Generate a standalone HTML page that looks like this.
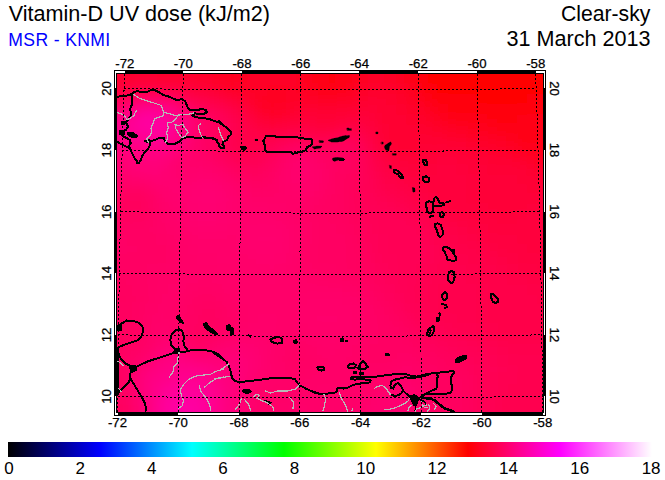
<!DOCTYPE html>
<html><head><meta charset="utf-8"><title>Vitamin-D UV dose</title>
<style>
html,body{margin:0;padding:0;background:#fff;}
body{width:665px;height:480px;overflow:hidden;}
svg{display:block;}
text{font-family:"Liberation Sans",sans-serif;}
</style></head><body>
<svg width="665" height="480" viewBox="0 0 665 480">
<defs>
<linearGradient id="cb" x1="0" y1="0" x2="1" y2="0"><stop offset="0" stop-color="#000"/><stop offset="0.142857" stop-color="#00f"/><stop offset="0.285714" stop-color="#0ff"/><stop offset="0.428571" stop-color="#0f0"/><stop offset="0.571429" stop-color="#ff0"/><stop offset="0.714286" stop-color="#f00"/><stop offset="0.857143" stop-color="#f0f"/><stop offset="1" stop-color="#fff"/></linearGradient>
<clipPath id="clip"><rect x="117" y="74" width="426" height="338"/></clipPath>
<filter id="blur" x="-5%" y="-5%" width="110%" height="110%"><feGaussianBlur stdDeviation="7"/></filter>
</defs>
<rect width="665" height="480" fill="#fff"/>
<text x="8.7" y="21" font-size="21.6" fill="#000">Vitamin-D UV dose (kJ/m2)</text>
<text x="8.3" y="45.5" font-size="17.6" letter-spacing="0.35" fill="#0000ff">MSR - KNMI</text>
<text x="650.4" y="21" font-size="21.2" fill="#000" text-anchor="end">Clear-sky</text>
<text x="650.6" y="46" font-size="21.6" fill="#000" text-anchor="end">31 March 2013</text>
<g clip-path="url(#clip)">
<rect x="87" y="44" width="486" height="398" fill="#ff0050"/>
<g filter="url(#blur)" shape-rendering="crispEdges">
<rect x="97" y="54" width="30" height="10" fill="#ff002e"/><rect x="127" y="54" width="20" height="10" fill="#ff002d"/><rect x="147" y="54" width="10" height="10" fill="#ff002e"/><rect x="157" y="54" width="10" height="10" fill="#ff002c"/><rect x="167" y="54" width="10" height="10" fill="#ff002a"/><rect x="177" y="54" width="20" height="10" fill="#ff002c"/><rect x="197" y="54" width="20" height="10" fill="#ff0029"/><rect x="217" y="54" width="10" height="10" fill="#ff0023"/><rect x="227" y="54" width="10" height="10" fill="#ff001f"/><rect x="237" y="54" width="10" height="10" fill="#ff0022"/><rect x="247" y="54" width="10" height="10" fill="#ff0027"/><rect x="257" y="54" width="30" height="10" fill="#ff0029"/><rect x="287" y="54" width="10" height="10" fill="#ff0027"/><rect x="297" y="54" width="10" height="10" fill="#ff0020"/><rect x="307" y="54" width="10" height="10" fill="#ff0017"/><rect x="317" y="54" width="10" height="10" fill="#ff0012"/><rect x="327" y="54" width="10" height="10" fill="#ff0011"/><rect x="337" y="54" width="10" height="10" fill="#ff0013"/><rect x="347" y="54" width="10" height="10" fill="#ff0018"/><rect x="357" y="54" width="10" height="10" fill="#ff001e"/><rect x="367" y="54" width="10" height="10" fill="#ff0025"/><rect x="377" y="54" width="10" height="10" fill="#ff0027"/><rect x="387" y="54" width="10" height="10" fill="#ff0026"/><rect x="397" y="54" width="10" height="10" fill="#ff001f"/><rect x="407" y="54" width="10" height="10" fill="#ff0015"/><rect x="417" y="54" width="10" height="10" fill="#ff000c"/><rect x="427" y="54" width="10" height="10" fill="#ff0006"/><rect x="437" y="54" width="40" height="10" fill="#ff0004"/><rect x="477" y="54" width="10" height="10" fill="#ff0003"/><rect x="487" y="54" width="50" height="10" fill="#ff0001"/><rect x="537" y="54" width="30" height="10" fill="#ff0000"/>
<rect x="97" y="64" width="30" height="10" fill="#ff002e"/><rect x="127" y="64" width="20" height="10" fill="#ff002d"/><rect x="147" y="64" width="10" height="10" fill="#ff002e"/><rect x="157" y="64" width="10" height="10" fill="#ff002c"/><rect x="167" y="64" width="10" height="10" fill="#ff002a"/><rect x="177" y="64" width="20" height="10" fill="#ff002c"/><rect x="197" y="64" width="20" height="10" fill="#ff0029"/><rect x="217" y="64" width="10" height="10" fill="#ff0023"/><rect x="227" y="64" width="10" height="10" fill="#ff001f"/><rect x="237" y="64" width="10" height="10" fill="#ff0022"/><rect x="247" y="64" width="10" height="10" fill="#ff0027"/><rect x="257" y="64" width="30" height="10" fill="#ff0029"/><rect x="287" y="64" width="10" height="10" fill="#ff0027"/><rect x="297" y="64" width="10" height="10" fill="#ff0020"/><rect x="307" y="64" width="10" height="10" fill="#ff0017"/><rect x="317" y="64" width="10" height="10" fill="#ff0012"/><rect x="327" y="64" width="10" height="10" fill="#ff0011"/><rect x="337" y="64" width="10" height="10" fill="#ff0013"/><rect x="347" y="64" width="10" height="10" fill="#ff0018"/><rect x="357" y="64" width="10" height="10" fill="#ff001e"/><rect x="367" y="64" width="10" height="10" fill="#ff0025"/><rect x="377" y="64" width="10" height="10" fill="#ff0027"/><rect x="387" y="64" width="10" height="10" fill="#ff0026"/><rect x="397" y="64" width="10" height="10" fill="#ff001f"/><rect x="407" y="64" width="10" height="10" fill="#ff0015"/><rect x="417" y="64" width="10" height="10" fill="#ff000c"/><rect x="427" y="64" width="10" height="10" fill="#ff0006"/><rect x="437" y="64" width="40" height="10" fill="#ff0004"/><rect x="477" y="64" width="10" height="10" fill="#ff0003"/><rect x="487" y="64" width="50" height="10" fill="#ff0001"/><rect x="537" y="64" width="30" height="10" fill="#ff0000"/>
<rect x="97" y="74" width="20" height="10" fill="#ff002f"/><rect x="117" y="74" width="10" height="10" fill="#ff0030"/><rect x="127" y="74" width="10" height="10" fill="#ff002f"/><rect x="137" y="74" width="20" height="10" fill="#ff0030"/><rect x="157" y="74" width="10" height="10" fill="#ff002f"/><rect x="167" y="74" width="10" height="10" fill="#ff002d"/><rect x="177" y="74" width="10" height="10" fill="#ff002f"/><rect x="187" y="74" width="10" height="10" fill="#ff002e"/><rect x="197" y="74" width="10" height="10" fill="#ff0029"/><rect x="207" y="74" width="10" height="10" fill="#ff002a"/><rect x="217" y="74" width="10" height="10" fill="#ff0023"/><rect x="227" y="74" width="10" height="10" fill="#ff001f"/><rect x="237" y="74" width="10" height="10" fill="#ff0022"/><rect x="247" y="74" width="10" height="10" fill="#ff0027"/><rect x="257" y="74" width="10" height="10" fill="#ff0028"/><rect x="267" y="74" width="30" height="10" fill="#ff0027"/><rect x="297" y="74" width="10" height="10" fill="#ff0020"/><rect x="307" y="74" width="10" height="10" fill="#ff0017"/><rect x="317" y="74" width="10" height="10" fill="#ff0012"/><rect x="327" y="74" width="10" height="10" fill="#ff0011"/><rect x="337" y="74" width="10" height="10" fill="#ff0013"/><rect x="347" y="74" width="10" height="10" fill="#ff0018"/><rect x="357" y="74" width="10" height="10" fill="#ff0020"/><rect x="367" y="74" width="10" height="10" fill="#ff0026"/><rect x="377" y="74" width="10" height="10" fill="#ff0029"/><rect x="387" y="74" width="10" height="10" fill="#ff0027"/><rect x="397" y="74" width="10" height="10" fill="#ff0021"/><rect x="407" y="74" width="10" height="10" fill="#ff0017"/><rect x="417" y="74" width="10" height="10" fill="#ff000d"/><rect x="427" y="74" width="10" height="10" fill="#ff0006"/><rect x="437" y="74" width="40" height="10" fill="#ff0004"/><rect x="477" y="74" width="10" height="10" fill="#ff0003"/><rect x="487" y="74" width="10" height="10" fill="#ff0001"/><rect x="497" y="74" width="10" height="10" fill="#ff0000"/><rect x="507" y="74" width="60" height="10" fill="#ff0001"/>
<rect x="97" y="84" width="20" height="10" fill="#ff0038"/><rect x="117" y="84" width="10" height="10" fill="#ff003a"/><rect x="127" y="84" width="10" height="10" fill="#ff003f"/><rect x="137" y="84" width="10" height="10" fill="#ff0041"/><rect x="147" y="84" width="10" height="10" fill="#ff003f"/><rect x="157" y="84" width="10" height="10" fill="#ff0040"/><rect x="167" y="84" width="10" height="10" fill="#ff003f"/><rect x="177" y="84" width="10" height="10" fill="#ff003e"/><rect x="187" y="84" width="10" height="10" fill="#ff003a"/><rect x="197" y="84" width="10" height="10" fill="#ff0034"/><rect x="207" y="84" width="10" height="10" fill="#ff0032"/><rect x="217" y="84" width="10" height="10" fill="#ff002a"/><rect x="227" y="84" width="10" height="10" fill="#ff0024"/><rect x="237" y="84" width="10" height="10" fill="#ff0026"/><rect x="247" y="84" width="10" height="10" fill="#ff0028"/><rect x="257" y="84" width="10" height="10" fill="#ff0025"/><rect x="267" y="84" width="10" height="10" fill="#ff0023"/><rect x="277" y="84" width="10" height="10" fill="#ff0024"/><rect x="287" y="84" width="10" height="10" fill="#ff0026"/><rect x="297" y="84" width="10" height="10" fill="#ff0024"/><rect x="307" y="84" width="10" height="10" fill="#ff001c"/><rect x="317" y="84" width="10" height="10" fill="#ff0016"/><rect x="327" y="84" width="10" height="10" fill="#ff0015"/><rect x="337" y="84" width="10" height="10" fill="#ff0017"/><rect x="347" y="84" width="10" height="10" fill="#ff001e"/><rect x="357" y="84" width="10" height="10" fill="#ff0025"/><rect x="367" y="84" width="10" height="10" fill="#ff002a"/><rect x="377" y="84" width="10" height="10" fill="#ff002c"/><rect x="387" y="84" width="10" height="10" fill="#ff002b"/><rect x="397" y="84" width="10" height="10" fill="#ff0026"/><rect x="407" y="84" width="10" height="10" fill="#ff001d"/><rect x="417" y="84" width="10" height="10" fill="#ff0011"/><rect x="427" y="84" width="10" height="10" fill="#ff0008"/><rect x="437" y="84" width="10" height="10" fill="#ff0005"/><rect x="447" y="84" width="10" height="10" fill="#ff0004"/><rect x="457" y="84" width="20" height="10" fill="#ff0005"/><rect x="477" y="84" width="10" height="10" fill="#ff0004"/><rect x="487" y="84" width="10" height="10" fill="#ff0002"/><rect x="497" y="84" width="20" height="10" fill="#ff0001"/><rect x="517" y="84" width="50" height="10" fill="#ff0002"/>
<rect x="97" y="94" width="20" height="10" fill="#ff004b"/><rect x="117" y="94" width="10" height="10" fill="#ff004e"/><rect x="127" y="94" width="10" height="10" fill="#ff005a"/><rect x="137" y="94" width="30" height="10" fill="#ff0065"/><rect x="167" y="94" width="10" height="10" fill="#ff0061"/><rect x="177" y="94" width="10" height="10" fill="#ff0054"/><rect x="187" y="94" width="10" height="10" fill="#ff004a"/><rect x="197" y="94" width="10" height="10" fill="#ff0047"/><rect x="207" y="94" width="10" height="10" fill="#ff0043"/><rect x="217" y="94" width="10" height="10" fill="#ff003c"/><rect x="227" y="94" width="10" height="10" fill="#ff0035"/><rect x="237" y="94" width="10" height="10" fill="#ff0031"/><rect x="247" y="94" width="10" height="10" fill="#ff002b"/><rect x="257" y="94" width="10" height="10" fill="#ff0023"/><rect x="267" y="94" width="10" height="10" fill="#ff0021"/><rect x="277" y="94" width="10" height="10" fill="#ff0023"/><rect x="287" y="94" width="10" height="10" fill="#ff0028"/><rect x="297" y="94" width="10" height="10" fill="#ff002a"/><rect x="307" y="94" width="10" height="10" fill="#ff0027"/><rect x="317" y="94" width="10" height="10" fill="#ff0024"/><rect x="327" y="94" width="10" height="10" fill="#ff0023"/><rect x="337" y="94" width="10" height="10" fill="#ff0025"/><rect x="347" y="94" width="10" height="10" fill="#ff0028"/><rect x="357" y="94" width="10" height="10" fill="#ff002d"/><rect x="367" y="94" width="20" height="10" fill="#ff0030"/><rect x="387" y="94" width="10" height="10" fill="#ff002f"/><rect x="397" y="94" width="10" height="10" fill="#ff002c"/><rect x="407" y="94" width="10" height="10" fill="#ff0025"/><rect x="417" y="94" width="10" height="10" fill="#ff001a"/><rect x="427" y="94" width="10" height="10" fill="#ff000f"/><rect x="437" y="94" width="10" height="10" fill="#ff0009"/><rect x="447" y="94" width="30" height="10" fill="#ff0007"/><rect x="477" y="94" width="10" height="10" fill="#ff0006"/><rect x="487" y="94" width="10" height="10" fill="#ff0004"/><rect x="497" y="94" width="10" height="10" fill="#ff0003"/><rect x="507" y="94" width="10" height="10" fill="#ff0004"/><rect x="517" y="94" width="10" height="10" fill="#ff0006"/><rect x="527" y="94" width="10" height="10" fill="#ff0007"/><rect x="537" y="94" width="30" height="10" fill="#ff0008"/>
<rect x="97" y="104" width="20" height="10" fill="#ff0067"/><rect x="117" y="104" width="10" height="10" fill="#ff006c"/><rect x="127" y="104" width="10" height="10" fill="#ff007e"/><rect x="137" y="104" width="10" height="10" fill="#ff008f"/><rect x="147" y="104" width="10" height="10" fill="#ff0091"/><rect x="157" y="104" width="10" height="10" fill="#ff008d"/><rect x="167" y="104" width="10" height="10" fill="#ff0083"/><rect x="177" y="104" width="10" height="10" fill="#ff0071"/><rect x="187" y="104" width="10" height="10" fill="#ff0060"/><rect x="197" y="104" width="10" height="10" fill="#ff005a"/><rect x="207" y="104" width="10" height="10" fill="#ff0055"/><rect x="217" y="104" width="10" height="10" fill="#ff004f"/><rect x="227" y="104" width="10" height="10" fill="#ff0047"/><rect x="237" y="104" width="10" height="10" fill="#ff003e"/><rect x="247" y="104" width="10" height="10" fill="#ff0032"/><rect x="257" y="104" width="10" height="10" fill="#ff0027"/><rect x="267" y="104" width="10" height="10" fill="#ff0023"/><rect x="277" y="104" width="10" height="10" fill="#ff0026"/><rect x="287" y="104" width="10" height="10" fill="#ff002c"/><rect x="297" y="104" width="50" height="10" fill="#ff0031"/><rect x="347" y="104" width="10" height="10" fill="#ff0033"/><rect x="357" y="104" width="20" height="10" fill="#ff0035"/><rect x="377" y="104" width="10" height="10" fill="#ff0032"/><rect x="387" y="104" width="10" height="10" fill="#ff0031"/><rect x="397" y="104" width="10" height="10" fill="#ff002f"/><rect x="407" y="104" width="10" height="10" fill="#ff002c"/><rect x="417" y="104" width="10" height="10" fill="#ff0026"/><rect x="427" y="104" width="10" height="10" fill="#ff001b"/><rect x="437" y="104" width="10" height="10" fill="#ff0012"/><rect x="447" y="104" width="10" height="10" fill="#ff000e"/><rect x="457" y="104" width="20" height="10" fill="#ff000d"/><rect x="477" y="104" width="10" height="10" fill="#ff000b"/><rect x="487" y="104" width="20" height="10" fill="#ff0009"/><rect x="507" y="104" width="10" height="10" fill="#ff000a"/><rect x="517" y="104" width="10" height="10" fill="#ff000d"/><rect x="527" y="104" width="10" height="10" fill="#ff000f"/><rect x="537" y="104" width="30" height="10" fill="#ff0010"/>
<rect x="97" y="114" width="20" height="10" fill="#ff0083"/><rect x="117" y="114" width="10" height="10" fill="#ff0088"/><rect x="127" y="114" width="10" height="10" fill="#ff0094"/><rect x="137" y="114" width="10" height="10" fill="#ff00a0"/><rect x="147" y="114" width="10" height="10" fill="#ff00a3"/><rect x="157" y="114" width="10" height="10" fill="#ff009e"/><rect x="167" y="114" width="10" height="10" fill="#ff0092"/><rect x="177" y="114" width="10" height="10" fill="#ff0083"/><rect x="187" y="114" width="10" height="10" fill="#ff0074"/><rect x="197" y="114" width="10" height="10" fill="#ff0068"/><rect x="207" y="114" width="10" height="10" fill="#ff005e"/><rect x="217" y="114" width="10" height="10" fill="#ff0058"/><rect x="227" y="114" width="10" height="10" fill="#ff0051"/><rect x="237" y="114" width="10" height="10" fill="#ff0048"/><rect x="247" y="114" width="10" height="10" fill="#ff003f"/><rect x="257" y="114" width="10" height="10" fill="#ff0033"/><rect x="267" y="114" width="10" height="10" fill="#ff002d"/><rect x="277" y="114" width="10" height="10" fill="#ff002f"/><rect x="287" y="114" width="10" height="10" fill="#ff0035"/><rect x="297" y="114" width="10" height="10" fill="#ff0039"/><rect x="307" y="114" width="10" height="10" fill="#ff0037"/><rect x="317" y="114" width="10" height="10" fill="#ff0035"/><rect x="327" y="114" width="10" height="10" fill="#ff0034"/><rect x="337" y="114" width="10" height="10" fill="#ff0037"/><rect x="347" y="114" width="10" height="10" fill="#ff003b"/><rect x="357" y="114" width="10" height="10" fill="#ff003c"/><rect x="367" y="114" width="10" height="10" fill="#ff0038"/><rect x="377" y="114" width="10" height="10" fill="#ff0033"/><rect x="387" y="114" width="10" height="10" fill="#ff0031"/><rect x="397" y="114" width="10" height="10" fill="#ff0030"/><rect x="407" y="114" width="10" height="10" fill="#ff002f"/><rect x="417" y="114" width="10" height="10" fill="#ff002c"/><rect x="427" y="114" width="10" height="10" fill="#ff0026"/><rect x="437" y="114" width="10" height="10" fill="#ff001e"/><rect x="447" y="114" width="10" height="10" fill="#ff0019"/><rect x="457" y="114" width="10" height="10" fill="#ff0017"/><rect x="467" y="114" width="10" height="10" fill="#ff0015"/><rect x="477" y="114" width="10" height="10" fill="#ff0013"/><rect x="487" y="114" width="10" height="10" fill="#ff0011"/><rect x="497" y="114" width="10" height="10" fill="#ff0010"/><rect x="507" y="114" width="10" height="10" fill="#ff0011"/><rect x="517" y="114" width="10" height="10" fill="#ff0012"/><rect x="527" y="114" width="40" height="10" fill="#ff0013"/>
<rect x="97" y="124" width="20" height="10" fill="#ff008a"/><rect x="117" y="124" width="10" height="10" fill="#ff008e"/><rect x="127" y="124" width="10" height="10" fill="#ff0095"/><rect x="137" y="124" width="10" height="10" fill="#ff009e"/><rect x="147" y="124" width="10" height="10" fill="#ff00a2"/><rect x="157" y="124" width="10" height="10" fill="#ff009e"/><rect x="167" y="124" width="10" height="10" fill="#ff0094"/><rect x="177" y="124" width="10" height="10" fill="#ff0083"/><rect x="187" y="124" width="10" height="10" fill="#ff0073"/><rect x="197" y="124" width="10" height="10" fill="#ff0067"/><rect x="207" y="124" width="10" height="10" fill="#ff005e"/><rect x="217" y="124" width="10" height="10" fill="#ff0059"/><rect x="227" y="124" width="10" height="10" fill="#ff0051"/><rect x="237" y="124" width="10" height="10" fill="#ff004a"/><rect x="247" y="124" width="10" height="10" fill="#ff0047"/><rect x="257" y="124" width="10" height="10" fill="#ff0041"/><rect x="267" y="124" width="10" height="10" fill="#ff003d"/><rect x="277" y="124" width="10" height="10" fill="#ff003f"/><rect x="287" y="124" width="10" height="10" fill="#ff0043"/><rect x="297" y="124" width="10" height="10" fill="#ff0044"/><rect x="307" y="124" width="10" height="10" fill="#ff0040"/><rect x="317" y="124" width="10" height="10" fill="#ff003b"/><rect x="327" y="124" width="10" height="10" fill="#ff003c"/><rect x="337" y="124" width="10" height="10" fill="#ff0042"/><rect x="347" y="124" width="10" height="10" fill="#ff0047"/><rect x="357" y="124" width="10" height="10" fill="#ff0045"/><rect x="367" y="124" width="10" height="10" fill="#ff003c"/><rect x="377" y="124" width="10" height="10" fill="#ff0034"/><rect x="387" y="124" width="10" height="10" fill="#ff0031"/><rect x="397" y="124" width="20" height="10" fill="#ff0030"/><rect x="417" y="124" width="10" height="10" fill="#ff002f"/><rect x="427" y="124" width="10" height="10" fill="#ff002d"/><rect x="437" y="124" width="10" height="10" fill="#ff0028"/><rect x="447" y="124" width="10" height="10" fill="#ff0025"/><rect x="457" y="124" width="10" height="10" fill="#ff0022"/><rect x="467" y="124" width="10" height="10" fill="#ff001f"/><rect x="477" y="124" width="10" height="10" fill="#ff001d"/><rect x="487" y="124" width="10" height="10" fill="#ff001a"/><rect x="497" y="124" width="10" height="10" fill="#ff0018"/><rect x="507" y="124" width="10" height="10" fill="#ff0016"/><rect x="517" y="124" width="10" height="10" fill="#ff0015"/><rect x="527" y="124" width="40" height="10" fill="#ff0014"/>
<rect x="97" y="134" width="20" height="10" fill="#ff0084"/><rect x="117" y="134" width="10" height="10" fill="#ff0086"/><rect x="127" y="134" width="10" height="10" fill="#ff008c"/><rect x="137" y="134" width="10" height="10" fill="#ff0091"/><rect x="147" y="134" width="20" height="10" fill="#ff0094"/><rect x="167" y="134" width="10" height="10" fill="#ff008d"/><rect x="177" y="134" width="10" height="10" fill="#ff007e"/><rect x="187" y="134" width="10" height="10" fill="#ff006d"/><rect x="197" y="134" width="10" height="10" fill="#ff0064"/><rect x="207" y="134" width="10" height="10" fill="#ff005e"/><rect x="217" y="134" width="10" height="10" fill="#ff0059"/><rect x="227" y="134" width="10" height="10" fill="#ff004f"/><rect x="237" y="134" width="30" height="10" fill="#ff0049"/><rect x="267" y="134" width="10" height="10" fill="#ff004a"/><rect x="277" y="134" width="10" height="10" fill="#ff004f"/><rect x="287" y="134" width="10" height="10" fill="#ff0054"/><rect x="297" y="134" width="10" height="10" fill="#ff0055"/><rect x="307" y="134" width="10" height="10" fill="#ff0050"/><rect x="317" y="134" width="10" height="10" fill="#ff004d"/><rect x="327" y="134" width="10" height="10" fill="#ff0052"/><rect x="337" y="134" width="10" height="10" fill="#ff0058"/><rect x="347" y="134" width="10" height="10" fill="#ff0057"/><rect x="357" y="134" width="10" height="10" fill="#ff0050"/><rect x="367" y="134" width="10" height="10" fill="#ff0042"/><rect x="377" y="134" width="10" height="10" fill="#ff0036"/><rect x="387" y="134" width="10" height="10" fill="#ff0032"/><rect x="397" y="134" width="40" height="10" fill="#ff0031"/><rect x="437" y="134" width="10" height="10" fill="#ff0030"/><rect x="447" y="134" width="10" height="10" fill="#ff002f"/><rect x="457" y="134" width="10" height="10" fill="#ff002d"/><rect x="467" y="134" width="10" height="10" fill="#ff002a"/><rect x="477" y="134" width="10" height="10" fill="#ff0027"/><rect x="487" y="134" width="10" height="10" fill="#ff0024"/><rect x="497" y="134" width="10" height="10" fill="#ff0021"/><rect x="507" y="134" width="10" height="10" fill="#ff001c"/><rect x="517" y="134" width="10" height="10" fill="#ff0018"/><rect x="527" y="134" width="40" height="10" fill="#ff0015"/>
<rect x="97" y="144" width="20" height="10" fill="#ff0079"/><rect x="117" y="144" width="10" height="10" fill="#ff007b"/><rect x="127" y="144" width="10" height="10" fill="#ff007f"/><rect x="137" y="144" width="20" height="10" fill="#ff0082"/><rect x="157" y="144" width="10" height="10" fill="#ff0085"/><rect x="167" y="144" width="10" height="10" fill="#ff007f"/><rect x="177" y="144" width="10" height="10" fill="#ff0074"/><rect x="187" y="144" width="10" height="10" fill="#ff006c"/><rect x="197" y="144" width="10" height="10" fill="#ff0066"/><rect x="207" y="144" width="10" height="10" fill="#ff0061"/><rect x="217" y="144" width="10" height="10" fill="#ff005a"/><rect x="227" y="144" width="10" height="10" fill="#ff0050"/><rect x="237" y="144" width="10" height="10" fill="#ff004b"/><rect x="247" y="144" width="10" height="10" fill="#ff004c"/><rect x="257" y="144" width="10" height="10" fill="#ff004e"/><rect x="267" y="144" width="10" height="10" fill="#ff0054"/><rect x="277" y="144" width="10" height="10" fill="#ff005d"/><rect x="287" y="144" width="10" height="10" fill="#ff0064"/><rect x="297" y="144" width="10" height="10" fill="#ff0065"/><rect x="307" y="144" width="10" height="10" fill="#ff0061"/><rect x="317" y="144" width="10" height="10" fill="#ff005c"/><rect x="327" y="144" width="10" height="10" fill="#ff005f"/><rect x="337" y="144" width="10" height="10" fill="#ff0060"/><rect x="347" y="144" width="10" height="10" fill="#ff005e"/><rect x="357" y="144" width="10" height="10" fill="#ff0057"/><rect x="367" y="144" width="10" height="10" fill="#ff0049"/><rect x="377" y="144" width="10" height="10" fill="#ff003b"/><rect x="387" y="144" width="10" height="10" fill="#ff0035"/><rect x="397" y="144" width="20" height="10" fill="#ff0033"/><rect x="417" y="144" width="10" height="10" fill="#ff0034"/><rect x="427" y="144" width="10" height="10" fill="#ff0035"/><rect x="437" y="144" width="20" height="10" fill="#ff0036"/><rect x="457" y="144" width="10" height="10" fill="#ff0035"/><rect x="467" y="144" width="10" height="10" fill="#ff0032"/><rect x="477" y="144" width="10" height="10" fill="#ff002f"/><rect x="487" y="144" width="10" height="10" fill="#ff002d"/><rect x="497" y="144" width="10" height="10" fill="#ff002b"/><rect x="507" y="144" width="10" height="10" fill="#ff0026"/><rect x="517" y="144" width="10" height="10" fill="#ff001f"/><rect x="527" y="144" width="10" height="10" fill="#ff001a"/><rect x="537" y="144" width="30" height="10" fill="#ff0017"/>
<rect x="97" y="154" width="20" height="10" fill="#ff0071"/><rect x="117" y="154" width="10" height="10" fill="#ff0073"/><rect x="127" y="154" width="10" height="10" fill="#ff0078"/><rect x="137" y="154" width="30" height="10" fill="#ff007b"/><rect x="167" y="154" width="10" height="10" fill="#ff0072"/><rect x="177" y="154" width="10" height="10" fill="#ff006c"/><rect x="187" y="154" width="10" height="10" fill="#ff006b"/><rect x="197" y="154" width="10" height="10" fill="#ff0069"/><rect x="207" y="154" width="10" height="10" fill="#ff0065"/><rect x="217" y="154" width="10" height="10" fill="#ff005e"/><rect x="227" y="154" width="10" height="10" fill="#ff0056"/><rect x="237" y="154" width="10" height="10" fill="#ff0052"/><rect x="247" y="154" width="10" height="10" fill="#ff0051"/><rect x="257" y="154" width="10" height="10" fill="#ff0054"/><rect x="267" y="154" width="10" height="10" fill="#ff005c"/><rect x="277" y="154" width="10" height="10" fill="#ff0065"/><rect x="287" y="154" width="10" height="10" fill="#ff006b"/><rect x="297" y="154" width="10" height="10" fill="#ff006d"/><rect x="307" y="154" width="10" height="10" fill="#ff006a"/><rect x="317" y="154" width="10" height="10" fill="#ff0063"/><rect x="327" y="154" width="20" height="10" fill="#ff0061"/><rect x="347" y="154" width="10" height="10" fill="#ff005f"/><rect x="357" y="154" width="10" height="10" fill="#ff0059"/><rect x="367" y="154" width="10" height="10" fill="#ff004e"/><rect x="377" y="154" width="10" height="10" fill="#ff0042"/><rect x="387" y="154" width="10" height="10" fill="#ff003a"/><rect x="397" y="154" width="20" height="10" fill="#ff0037"/><rect x="417" y="154" width="10" height="10" fill="#ff0038"/><rect x="427" y="154" width="10" height="10" fill="#ff0039"/><rect x="437" y="154" width="20" height="10" fill="#ff003a"/><rect x="457" y="154" width="10" height="10" fill="#ff0039"/><rect x="467" y="154" width="10" height="10" fill="#ff0037"/><rect x="477" y="154" width="10" height="10" fill="#ff0034"/><rect x="487" y="154" width="10" height="10" fill="#ff0033"/><rect x="497" y="154" width="10" height="10" fill="#ff0032"/><rect x="507" y="154" width="10" height="10" fill="#ff0031"/><rect x="517" y="154" width="10" height="10" fill="#ff002c"/><rect x="527" y="154" width="10" height="10" fill="#ff0025"/><rect x="537" y="154" width="30" height="10" fill="#ff001f"/>
<rect x="97" y="164" width="30" height="10" fill="#ff0070"/><rect x="127" y="164" width="10" height="10" fill="#ff0074"/><rect x="137" y="164" width="10" height="10" fill="#ff0077"/><rect x="147" y="164" width="10" height="10" fill="#ff0078"/><rect x="157" y="164" width="10" height="10" fill="#ff0076"/><rect x="167" y="164" width="10" height="10" fill="#ff006f"/><rect x="177" y="164" width="20" height="10" fill="#ff006b"/><rect x="197" y="164" width="10" height="10" fill="#ff006c"/><rect x="207" y="164" width="10" height="10" fill="#ff006a"/><rect x="217" y="164" width="10" height="10" fill="#ff0066"/><rect x="227" y="164" width="10" height="10" fill="#ff0060"/><rect x="237" y="164" width="10" height="10" fill="#ff005b"/><rect x="247" y="164" width="10" height="10" fill="#ff0059"/><rect x="257" y="164" width="10" height="10" fill="#ff005b"/><rect x="267" y="164" width="10" height="10" fill="#ff0061"/><rect x="277" y="164" width="10" height="10" fill="#ff0068"/><rect x="287" y="164" width="10" height="10" fill="#ff006d"/><rect x="297" y="164" width="10" height="10" fill="#ff006e"/><rect x="307" y="164" width="10" height="10" fill="#ff006c"/><rect x="317" y="164" width="10" height="10" fill="#ff0067"/><rect x="327" y="164" width="10" height="10" fill="#ff0062"/><rect x="337" y="164" width="10" height="10" fill="#ff0060"/><rect x="347" y="164" width="10" height="10" fill="#ff005e"/><rect x="357" y="164" width="10" height="10" fill="#ff0059"/><rect x="367" y="164" width="10" height="10" fill="#ff0050"/><rect x="377" y="164" width="10" height="10" fill="#ff0047"/><rect x="387" y="164" width="10" height="10" fill="#ff0040"/><rect x="397" y="164" width="10" height="10" fill="#ff003d"/><rect x="407" y="164" width="30" height="10" fill="#ff003b"/><rect x="437" y="164" width="20" height="10" fill="#ff003c"/><rect x="457" y="164" width="10" height="10" fill="#ff003b"/><rect x="467" y="164" width="10" height="10" fill="#ff0039"/><rect x="477" y="164" width="10" height="10" fill="#ff0037"/><rect x="487" y="164" width="30" height="10" fill="#ff0036"/><rect x="517" y="164" width="10" height="10" fill="#ff0034"/><rect x="527" y="164" width="10" height="10" fill="#ff0030"/><rect x="537" y="164" width="10" height="10" fill="#ff002a"/><rect x="547" y="164" width="20" height="10" fill="#ff0029"/>
<rect x="97" y="174" width="40" height="10" fill="#ff006d"/><rect x="137" y="174" width="10" height="10" fill="#ff006f"/><rect x="147" y="174" width="20" height="10" fill="#ff0072"/><rect x="167" y="174" width="10" height="10" fill="#ff0070"/><rect x="177" y="174" width="20" height="10" fill="#ff006e"/><rect x="197" y="174" width="20" height="10" fill="#ff0070"/><rect x="217" y="174" width="10" height="10" fill="#ff006d"/><rect x="227" y="174" width="10" height="10" fill="#ff0068"/><rect x="237" y="174" width="10" height="10" fill="#ff0063"/><rect x="247" y="174" width="20" height="10" fill="#ff0060"/><rect x="267" y="174" width="10" height="10" fill="#ff0064"/><rect x="277" y="174" width="10" height="10" fill="#ff0069"/><rect x="287" y="174" width="10" height="10" fill="#ff006c"/><rect x="297" y="174" width="10" height="10" fill="#ff006d"/><rect x="307" y="174" width="10" height="10" fill="#ff006b"/><rect x="317" y="174" width="10" height="10" fill="#ff0067"/><rect x="327" y="174" width="10" height="10" fill="#ff0062"/><rect x="337" y="174" width="10" height="10" fill="#ff005f"/><rect x="347" y="174" width="10" height="10" fill="#ff005c"/><rect x="357" y="174" width="10" height="10" fill="#ff0058"/><rect x="367" y="174" width="10" height="10" fill="#ff0052"/><rect x="377" y="174" width="10" height="10" fill="#ff004b"/><rect x="387" y="174" width="10" height="10" fill="#ff0046"/><rect x="397" y="174" width="10" height="10" fill="#ff0042"/><rect x="407" y="174" width="10" height="10" fill="#ff003f"/><rect x="417" y="174" width="10" height="10" fill="#ff003d"/><rect x="427" y="174" width="40" height="10" fill="#ff003c"/><rect x="467" y="174" width="10" height="10" fill="#ff003a"/><rect x="477" y="174" width="10" height="10" fill="#ff0038"/><rect x="487" y="174" width="30" height="10" fill="#ff0037"/><rect x="517" y="174" width="10" height="10" fill="#ff0036"/><rect x="527" y="174" width="10" height="10" fill="#ff0034"/><rect x="537" y="174" width="10" height="10" fill="#ff0031"/><rect x="547" y="174" width="20" height="10" fill="#ff0030"/>
<rect x="97" y="184" width="20" height="10" fill="#ff0066"/><rect x="117" y="184" width="10" height="10" fill="#ff0063"/><rect x="127" y="184" width="10" height="10" fill="#ff0060"/><rect x="137" y="184" width="10" height="10" fill="#ff0062"/><rect x="147" y="184" width="10" height="10" fill="#ff0069"/><rect x="157" y="184" width="10" height="10" fill="#ff006e"/><rect x="167" y="184" width="20" height="10" fill="#ff006f"/><rect x="187" y="184" width="10" height="10" fill="#ff0070"/><rect x="197" y="184" width="20" height="10" fill="#ff0072"/><rect x="217" y="184" width="10" height="10" fill="#ff0071"/><rect x="227" y="184" width="10" height="10" fill="#ff006d"/><rect x="237" y="184" width="10" height="10" fill="#ff0068"/><rect x="247" y="184" width="10" height="10" fill="#ff0065"/><rect x="257" y="184" width="10" height="10" fill="#ff0064"/><rect x="267" y="184" width="10" height="10" fill="#ff0065"/><rect x="277" y="184" width="10" height="10" fill="#ff0068"/><rect x="287" y="184" width="20" height="10" fill="#ff006a"/><rect x="307" y="184" width="10" height="10" fill="#ff0069"/><rect x="317" y="184" width="10" height="10" fill="#ff0066"/><rect x="327" y="184" width="10" height="10" fill="#ff0062"/><rect x="337" y="184" width="10" height="10" fill="#ff005e"/><rect x="347" y="184" width="10" height="10" fill="#ff005b"/><rect x="357" y="184" width="10" height="10" fill="#ff0057"/><rect x="367" y="184" width="10" height="10" fill="#ff0053"/><rect x="377" y="184" width="10" height="10" fill="#ff004e"/><rect x="387" y="184" width="10" height="10" fill="#ff004a"/><rect x="397" y="184" width="10" height="10" fill="#ff0046"/><rect x="407" y="184" width="10" height="10" fill="#ff0042"/><rect x="417" y="184" width="10" height="10" fill="#ff003f"/><rect x="427" y="184" width="10" height="10" fill="#ff003d"/><rect x="437" y="184" width="30" height="10" fill="#ff003c"/><rect x="467" y="184" width="10" height="10" fill="#ff003b"/><rect x="477" y="184" width="10" height="10" fill="#ff0039"/><rect x="487" y="184" width="40" height="10" fill="#ff0037"/><rect x="527" y="184" width="10" height="10" fill="#ff0036"/><rect x="537" y="184" width="30" height="10" fill="#ff0034"/>
<rect x="97" y="194" width="20" height="10" fill="#ff0060"/><rect x="117" y="194" width="10" height="10" fill="#ff005e"/><rect x="127" y="194" width="10" height="10" fill="#ff005b"/><rect x="137" y="194" width="10" height="10" fill="#ff005d"/><rect x="147" y="194" width="10" height="10" fill="#ff0063"/><rect x="157" y="194" width="10" height="10" fill="#ff006a"/><rect x="167" y="194" width="10" height="10" fill="#ff006e"/><rect x="177" y="194" width="10" height="10" fill="#ff006f"/><rect x="187" y="194" width="10" height="10" fill="#ff0071"/><rect x="197" y="194" width="20" height="10" fill="#ff0072"/><rect x="217" y="194" width="10" height="10" fill="#ff0071"/><rect x="227" y="194" width="10" height="10" fill="#ff006e"/><rect x="237" y="194" width="10" height="10" fill="#ff006a"/><rect x="247" y="194" width="10" height="10" fill="#ff0068"/><rect x="257" y="194" width="30" height="10" fill="#ff0067"/><rect x="287" y="194" width="10" height="10" fill="#ff0068"/><rect x="297" y="194" width="10" height="10" fill="#ff0067"/><rect x="307" y="194" width="10" height="10" fill="#ff0066"/><rect x="317" y="194" width="10" height="10" fill="#ff0064"/><rect x="327" y="194" width="10" height="10" fill="#ff0061"/><rect x="337" y="194" width="10" height="10" fill="#ff005e"/><rect x="347" y="194" width="10" height="10" fill="#ff005b"/><rect x="357" y="194" width="10" height="10" fill="#ff0058"/><rect x="367" y="194" width="10" height="10" fill="#ff0054"/><rect x="377" y="194" width="10" height="10" fill="#ff0051"/><rect x="387" y="194" width="10" height="10" fill="#ff004f"/><rect x="397" y="194" width="10" height="10" fill="#ff004c"/><rect x="407" y="194" width="10" height="10" fill="#ff0048"/><rect x="417" y="194" width="10" height="10" fill="#ff0043"/><rect x="427" y="194" width="10" height="10" fill="#ff003f"/><rect x="437" y="194" width="20" height="10" fill="#ff003d"/><rect x="457" y="194" width="10" height="10" fill="#ff003c"/><rect x="467" y="194" width="10" height="10" fill="#ff003b"/><rect x="477" y="194" width="10" height="10" fill="#ff0039"/><rect x="487" y="194" width="10" height="10" fill="#ff0038"/><rect x="497" y="194" width="70" height="10" fill="#ff0037"/>
<rect x="97" y="204" width="20" height="10" fill="#ff0060"/><rect x="117" y="204" width="10" height="10" fill="#ff005e"/><rect x="127" y="204" width="10" height="10" fill="#ff005c"/><rect x="137" y="204" width="10" height="10" fill="#ff005d"/><rect x="147" y="204" width="10" height="10" fill="#ff0062"/><rect x="157" y="204" width="10" height="10" fill="#ff0067"/><rect x="167" y="204" width="10" height="10" fill="#ff006b"/><rect x="177" y="204" width="10" height="10" fill="#ff006e"/><rect x="187" y="204" width="10" height="10" fill="#ff0070"/><rect x="197" y="204" width="20" height="10" fill="#ff0071"/><rect x="217" y="204" width="10" height="10" fill="#ff0070"/><rect x="227" y="204" width="10" height="10" fill="#ff006e"/><rect x="237" y="204" width="10" height="10" fill="#ff006b"/><rect x="247" y="204" width="20" height="10" fill="#ff006a"/><rect x="267" y="204" width="20" height="10" fill="#ff0069"/><rect x="287" y="204" width="10" height="10" fill="#ff0068"/><rect x="297" y="204" width="10" height="10" fill="#ff0066"/><rect x="307" y="204" width="10" height="10" fill="#ff0064"/><rect x="317" y="204" width="10" height="10" fill="#ff0063"/><rect x="327" y="204" width="10" height="10" fill="#ff0061"/><rect x="337" y="204" width="10" height="10" fill="#ff005f"/><rect x="347" y="204" width="10" height="10" fill="#ff005c"/><rect x="357" y="204" width="10" height="10" fill="#ff0059"/><rect x="367" y="204" width="10" height="10" fill="#ff0056"/><rect x="377" y="204" width="10" height="10" fill="#ff0054"/><rect x="387" y="204" width="10" height="10" fill="#ff0052"/><rect x="397" y="204" width="10" height="10" fill="#ff0051"/><rect x="407" y="204" width="10" height="10" fill="#ff004e"/><rect x="417" y="204" width="10" height="10" fill="#ff0049"/><rect x="427" y="204" width="10" height="10" fill="#ff0044"/><rect x="437" y="204" width="10" height="10" fill="#ff0040"/><rect x="447" y="204" width="10" height="10" fill="#ff003e"/><rect x="457" y="204" width="10" height="10" fill="#ff003d"/><rect x="467" y="204" width="10" height="10" fill="#ff003c"/><rect x="477" y="204" width="10" height="10" fill="#ff003b"/><rect x="487" y="204" width="40" height="10" fill="#ff0039"/><rect x="527" y="204" width="10" height="10" fill="#ff003a"/><rect x="537" y="204" width="30" height="10" fill="#ff003b"/>
<rect x="97" y="214" width="20" height="10" fill="#ff0062"/><rect x="117" y="214" width="10" height="10" fill="#ff0060"/><rect x="127" y="214" width="10" height="10" fill="#ff005f"/><rect x="137" y="214" width="10" height="10" fill="#ff0060"/><rect x="147" y="214" width="10" height="10" fill="#ff0063"/><rect x="157" y="214" width="10" height="10" fill="#ff0067"/><rect x="167" y="214" width="10" height="10" fill="#ff006a"/><rect x="177" y="214" width="10" height="10" fill="#ff006c"/><rect x="187" y="214" width="10" height="10" fill="#ff006e"/><rect x="197" y="214" width="20" height="10" fill="#ff006f"/><rect x="217" y="214" width="10" height="10" fill="#ff006e"/><rect x="227" y="214" width="10" height="10" fill="#ff006d"/><rect x="237" y="214" width="40" height="10" fill="#ff006c"/><rect x="277" y="214" width="10" height="10" fill="#ff006b"/><rect x="287" y="214" width="10" height="10" fill="#ff0069"/><rect x="297" y="214" width="10" height="10" fill="#ff0066"/><rect x="307" y="214" width="10" height="10" fill="#ff0064"/><rect x="317" y="214" width="10" height="10" fill="#ff0062"/><rect x="327" y="214" width="10" height="10" fill="#ff0061"/><rect x="337" y="214" width="10" height="10" fill="#ff0060"/><rect x="347" y="214" width="10" height="10" fill="#ff005d"/><rect x="357" y="214" width="10" height="10" fill="#ff005a"/><rect x="367" y="214" width="10" height="10" fill="#ff0057"/><rect x="377" y="214" width="10" height="10" fill="#ff0055"/><rect x="387" y="214" width="20" height="10" fill="#ff0054"/><rect x="407" y="214" width="10" height="10" fill="#ff0052"/><rect x="417" y="214" width="10" height="10" fill="#ff004f"/><rect x="427" y="214" width="10" height="10" fill="#ff004a"/><rect x="437" y="214" width="10" height="10" fill="#ff0045"/><rect x="447" y="214" width="10" height="10" fill="#ff0042"/><rect x="457" y="214" width="10" height="10" fill="#ff0040"/><rect x="467" y="214" width="10" height="10" fill="#ff003e"/><rect x="477" y="214" width="10" height="10" fill="#ff003d"/><rect x="487" y="214" width="10" height="10" fill="#ff003c"/><rect x="497" y="214" width="20" height="10" fill="#ff003b"/><rect x="517" y="214" width="10" height="10" fill="#ff003c"/><rect x="527" y="214" width="40" height="10" fill="#ff003d"/>
<rect x="97" y="224" width="20" height="10" fill="#ff0064"/><rect x="117" y="224" width="20" height="10" fill="#ff0063"/><rect x="137" y="224" width="10" height="10" fill="#ff0064"/><rect x="147" y="224" width="10" height="10" fill="#ff0065"/><rect x="157" y="224" width="10" height="10" fill="#ff0066"/><rect x="167" y="224" width="10" height="10" fill="#ff0068"/><rect x="177" y="224" width="10" height="10" fill="#ff006a"/><rect x="187" y="224" width="10" height="10" fill="#ff006c"/><rect x="197" y="224" width="30" height="10" fill="#ff006d"/><rect x="227" y="224" width="20" height="10" fill="#ff006c"/><rect x="247" y="224" width="40" height="10" fill="#ff006d"/><rect x="287" y="224" width="10" height="10" fill="#ff006a"/><rect x="297" y="224" width="10" height="10" fill="#ff0067"/><rect x="307" y="224" width="10" height="10" fill="#ff0064"/><rect x="317" y="224" width="20" height="10" fill="#ff0062"/><rect x="337" y="224" width="10" height="10" fill="#ff0061"/><rect x="347" y="224" width="10" height="10" fill="#ff005f"/><rect x="357" y="224" width="10" height="10" fill="#ff005b"/><rect x="367" y="224" width="10" height="10" fill="#ff0057"/><rect x="377" y="224" width="30" height="10" fill="#ff0055"/><rect x="407" y="224" width="10" height="10" fill="#ff0054"/><rect x="417" y="224" width="10" height="10" fill="#ff0052"/><rect x="427" y="224" width="10" height="10" fill="#ff004f"/><rect x="437" y="224" width="10" height="10" fill="#ff004a"/><rect x="447" y="224" width="10" height="10" fill="#ff0046"/><rect x="457" y="224" width="10" height="10" fill="#ff0044"/><rect x="467" y="224" width="10" height="10" fill="#ff0042"/><rect x="477" y="224" width="10" height="10" fill="#ff0040"/><rect x="487" y="224" width="10" height="10" fill="#ff003e"/><rect x="497" y="224" width="20" height="10" fill="#ff003d"/><rect x="517" y="224" width="50" height="10" fill="#ff003e"/>
<rect x="97" y="234" width="30" height="10" fill="#ff0065"/><rect x="127" y="234" width="30" height="10" fill="#ff0064"/><rect x="157" y="234" width="10" height="10" fill="#ff0065"/><rect x="167" y="234" width="10" height="10" fill="#ff0066"/><rect x="177" y="234" width="10" height="10" fill="#ff0068"/><rect x="187" y="234" width="10" height="10" fill="#ff006a"/><rect x="197" y="234" width="40" height="10" fill="#ff006b"/><rect x="237" y="234" width="10" height="10" fill="#ff006c"/><rect x="247" y="234" width="10" height="10" fill="#ff006d"/><rect x="257" y="234" width="20" height="10" fill="#ff006e"/><rect x="277" y="234" width="10" height="10" fill="#ff006d"/><rect x="287" y="234" width="10" height="10" fill="#ff006b"/><rect x="297" y="234" width="10" height="10" fill="#ff0067"/><rect x="307" y="234" width="10" height="10" fill="#ff0063"/><rect x="317" y="234" width="30" height="10" fill="#ff0062"/><rect x="347" y="234" width="10" height="10" fill="#ff0060"/><rect x="357" y="234" width="10" height="10" fill="#ff005c"/><rect x="367" y="234" width="10" height="10" fill="#ff0058"/><rect x="377" y="234" width="10" height="10" fill="#ff0056"/><rect x="387" y="234" width="30" height="10" fill="#ff0055"/><rect x="417" y="234" width="10" height="10" fill="#ff0054"/><rect x="427" y="234" width="10" height="10" fill="#ff0051"/><rect x="437" y="234" width="10" height="10" fill="#ff004d"/><rect x="447" y="234" width="10" height="10" fill="#ff004a"/><rect x="457" y="234" width="10" height="10" fill="#ff0047"/><rect x="467" y="234" width="10" height="10" fill="#ff0045"/><rect x="477" y="234" width="10" height="10" fill="#ff0043"/><rect x="487" y="234" width="10" height="10" fill="#ff0041"/><rect x="497" y="234" width="20" height="10" fill="#ff003f"/><rect x="517" y="234" width="50" height="10" fill="#ff003e"/>
<rect x="97" y="244" width="40" height="10" fill="#ff0065"/><rect x="137" y="244" width="30" height="10" fill="#ff0064"/><rect x="167" y="244" width="10" height="10" fill="#ff0065"/><rect x="177" y="244" width="10" height="10" fill="#ff0067"/><rect x="187" y="244" width="10" height="10" fill="#ff0069"/><rect x="197" y="244" width="30" height="10" fill="#ff006a"/><rect x="227" y="244" width="10" height="10" fill="#ff006b"/><rect x="237" y="244" width="10" height="10" fill="#ff006c"/><rect x="247" y="244" width="40" height="10" fill="#ff006d"/><rect x="287" y="244" width="10" height="10" fill="#ff006b"/><rect x="297" y="244" width="10" height="10" fill="#ff0066"/><rect x="307" y="244" width="10" height="10" fill="#ff0063"/><rect x="317" y="244" width="30" height="10" fill="#ff0062"/><rect x="347" y="244" width="10" height="10" fill="#ff0061"/><rect x="357" y="244" width="10" height="10" fill="#ff005d"/><rect x="367" y="244" width="10" height="10" fill="#ff0059"/><rect x="377" y="244" width="10" height="10" fill="#ff0056"/><rect x="387" y="244" width="30" height="10" fill="#ff0055"/><rect x="417" y="244" width="10" height="10" fill="#ff0054"/><rect x="427" y="244" width="10" height="10" fill="#ff0052"/><rect x="437" y="244" width="10" height="10" fill="#ff004f"/><rect x="447" y="244" width="10" height="10" fill="#ff004c"/><rect x="457" y="244" width="10" height="10" fill="#ff004a"/><rect x="467" y="244" width="10" height="10" fill="#ff0048"/><rect x="477" y="244" width="10" height="10" fill="#ff0046"/><rect x="487" y="244" width="10" height="10" fill="#ff0043"/><rect x="497" y="244" width="10" height="10" fill="#ff0041"/><rect x="507" y="244" width="10" height="10" fill="#ff0040"/><rect x="517" y="244" width="10" height="10" fill="#ff003f"/><rect x="527" y="244" width="40" height="10" fill="#ff003e"/>
<rect x="97" y="254" width="70" height="10" fill="#ff0064"/><rect x="167" y="254" width="10" height="10" fill="#ff0065"/><rect x="177" y="254" width="10" height="10" fill="#ff0067"/><rect x="187" y="254" width="10" height="10" fill="#ff0068"/><rect x="197" y="254" width="20" height="10" fill="#ff0069"/><rect x="217" y="254" width="20" height="10" fill="#ff006a"/><rect x="237" y="254" width="20" height="10" fill="#ff006b"/><rect x="257" y="254" width="10" height="10" fill="#ff006c"/><rect x="267" y="254" width="10" height="10" fill="#ff006d"/><rect x="277" y="254" width="10" height="10" fill="#ff006c"/><rect x="287" y="254" width="10" height="10" fill="#ff006a"/><rect x="297" y="254" width="10" height="10" fill="#ff0066"/><rect x="307" y="254" width="10" height="10" fill="#ff0063"/><rect x="317" y="254" width="30" height="10" fill="#ff0062"/><rect x="347" y="254" width="10" height="10" fill="#ff0061"/><rect x="357" y="254" width="10" height="10" fill="#ff005e"/><rect x="367" y="254" width="10" height="10" fill="#ff005a"/><rect x="377" y="254" width="10" height="10" fill="#ff0057"/><rect x="387" y="254" width="10" height="10" fill="#ff0056"/><rect x="397" y="254" width="20" height="10" fill="#ff0055"/><rect x="417" y="254" width="10" height="10" fill="#ff0054"/><rect x="427" y="254" width="10" height="10" fill="#ff0052"/><rect x="437" y="254" width="10" height="10" fill="#ff004f"/><rect x="447" y="254" width="10" height="10" fill="#ff004e"/><rect x="457" y="254" width="10" height="10" fill="#ff004c"/><rect x="467" y="254" width="10" height="10" fill="#ff004a"/><rect x="477" y="254" width="10" height="10" fill="#ff0048"/><rect x="487" y="254" width="10" height="10" fill="#ff0046"/><rect x="497" y="254" width="10" height="10" fill="#ff0044"/><rect x="507" y="254" width="10" height="10" fill="#ff0042"/><rect x="517" y="254" width="10" height="10" fill="#ff0040"/><rect x="527" y="254" width="40" height="10" fill="#ff003f"/>
<rect x="97" y="264" width="30" height="10" fill="#ff0063"/><rect x="127" y="264" width="20" height="10" fill="#ff0064"/><rect x="147" y="264" width="20" height="10" fill="#ff0065"/><rect x="167" y="264" width="10" height="10" fill="#ff0066"/><rect x="177" y="264" width="10" height="10" fill="#ff0067"/><rect x="187" y="264" width="30" height="10" fill="#ff0068"/><rect x="217" y="264" width="20" height="10" fill="#ff0069"/><rect x="237" y="264" width="30" height="10" fill="#ff006a"/><rect x="267" y="264" width="10" height="10" fill="#ff006b"/><rect x="277" y="264" width="10" height="10" fill="#ff006a"/><rect x="287" y="264" width="10" height="10" fill="#ff0069"/><rect x="297" y="264" width="10" height="10" fill="#ff0066"/><rect x="307" y="264" width="10" height="10" fill="#ff0064"/><rect x="317" y="264" width="20" height="10" fill="#ff0063"/><rect x="337" y="264" width="10" height="10" fill="#ff0062"/><rect x="347" y="264" width="10" height="10" fill="#ff0061"/><rect x="357" y="264" width="10" height="10" fill="#ff005f"/><rect x="367" y="264" width="10" height="10" fill="#ff005c"/><rect x="377" y="264" width="10" height="10" fill="#ff0058"/><rect x="387" y="264" width="10" height="10" fill="#ff0056"/><rect x="397" y="264" width="10" height="10" fill="#ff0055"/><rect x="407" y="264" width="10" height="10" fill="#ff0054"/><rect x="417" y="264" width="10" height="10" fill="#ff0053"/><rect x="427" y="264" width="10" height="10" fill="#ff0051"/><rect x="437" y="264" width="10" height="10" fill="#ff004f"/><rect x="447" y="264" width="10" height="10" fill="#ff004e"/><rect x="457" y="264" width="10" height="10" fill="#ff004d"/><rect x="467" y="264" width="10" height="10" fill="#ff004c"/><rect x="477" y="264" width="10" height="10" fill="#ff004a"/><rect x="487" y="264" width="10" height="10" fill="#ff0048"/><rect x="497" y="264" width="10" height="10" fill="#ff0047"/><rect x="507" y="264" width="10" height="10" fill="#ff0045"/><rect x="517" y="264" width="10" height="10" fill="#ff0043"/><rect x="527" y="264" width="10" height="10" fill="#ff0042"/><rect x="537" y="264" width="30" height="10" fill="#ff0040"/>
<rect x="97" y="274" width="30" height="10" fill="#ff0061"/><rect x="127" y="274" width="10" height="10" fill="#ff0062"/><rect x="137" y="274" width="10" height="10" fill="#ff0064"/><rect x="147" y="274" width="10" height="10" fill="#ff0065"/><rect x="157" y="274" width="20" height="10" fill="#ff0066"/><rect x="177" y="274" width="40" height="10" fill="#ff0067"/><rect x="217" y="274" width="10" height="10" fill="#ff0068"/><rect x="227" y="274" width="40" height="10" fill="#ff0069"/><rect x="267" y="274" width="10" height="10" fill="#ff006a"/><rect x="277" y="274" width="20" height="10" fill="#ff0069"/><rect x="297" y="274" width="10" height="10" fill="#ff0067"/><rect x="307" y="274" width="10" height="10" fill="#ff0066"/><rect x="317" y="274" width="10" height="10" fill="#ff0065"/><rect x="327" y="274" width="20" height="10" fill="#ff0064"/><rect x="347" y="274" width="10" height="10" fill="#ff0063"/><rect x="357" y="274" width="10" height="10" fill="#ff0061"/><rect x="367" y="274" width="10" height="10" fill="#ff005e"/><rect x="377" y="274" width="10" height="10" fill="#ff005b"/><rect x="387" y="274" width="10" height="10" fill="#ff0058"/><rect x="397" y="274" width="10" height="10" fill="#ff0056"/><rect x="407" y="274" width="10" height="10" fill="#ff0054"/><rect x="417" y="274" width="10" height="10" fill="#ff0052"/><rect x="427" y="274" width="10" height="10" fill="#ff0050"/><rect x="437" y="274" width="10" height="10" fill="#ff004f"/><rect x="447" y="274" width="20" height="10" fill="#ff004e"/><rect x="467" y="274" width="10" height="10" fill="#ff004c"/><rect x="477" y="274" width="10" height="10" fill="#ff004a"/><rect x="487" y="274" width="10" height="10" fill="#ff0049"/><rect x="497" y="274" width="10" height="10" fill="#ff0048"/><rect x="507" y="274" width="20" height="10" fill="#ff0047"/><rect x="527" y="274" width="10" height="10" fill="#ff0045"/><rect x="537" y="274" width="10" height="10" fill="#ff0044"/><rect x="547" y="274" width="20" height="10" fill="#ff0043"/>
<rect x="97" y="284" width="30" height="10" fill="#ff0060"/><rect x="127" y="284" width="10" height="10" fill="#ff0061"/><rect x="137" y="284" width="10" height="10" fill="#ff0063"/><rect x="147" y="284" width="10" height="10" fill="#ff0065"/><rect x="157" y="284" width="10" height="10" fill="#ff0066"/><rect x="167" y="284" width="20" height="10" fill="#ff0067"/><rect x="187" y="284" width="10" height="10" fill="#ff0066"/><rect x="197" y="284" width="20" height="10" fill="#ff0065"/><rect x="217" y="284" width="10" height="10" fill="#ff0067"/><rect x="227" y="284" width="10" height="10" fill="#ff0068"/><rect x="237" y="284" width="60" height="10" fill="#ff0069"/><rect x="297" y="284" width="40" height="10" fill="#ff0068"/><rect x="337" y="284" width="10" height="10" fill="#ff0067"/><rect x="347" y="284" width="10" height="10" fill="#ff0065"/><rect x="357" y="284" width="10" height="10" fill="#ff0063"/><rect x="367" y="284" width="10" height="10" fill="#ff0060"/><rect x="377" y="284" width="10" height="10" fill="#ff005d"/><rect x="387" y="284" width="10" height="10" fill="#ff005a"/><rect x="397" y="284" width="10" height="10" fill="#ff0057"/><rect x="407" y="284" width="10" height="10" fill="#ff0054"/><rect x="417" y="284" width="10" height="10" fill="#ff0051"/><rect x="427" y="284" width="10" height="10" fill="#ff004f"/><rect x="437" y="284" width="30" height="10" fill="#ff004e"/><rect x="467" y="284" width="10" height="10" fill="#ff004d"/><rect x="477" y="284" width="10" height="10" fill="#ff004b"/><rect x="487" y="284" width="10" height="10" fill="#ff0049"/><rect x="497" y="284" width="30" height="10" fill="#ff0048"/><rect x="527" y="284" width="10" height="10" fill="#ff0047"/><rect x="537" y="284" width="30" height="10" fill="#ff0046"/>
<rect x="97" y="294" width="30" height="10" fill="#ff005f"/><rect x="127" y="294" width="10" height="10" fill="#ff0060"/><rect x="137" y="294" width="10" height="10" fill="#ff0062"/><rect x="147" y="294" width="10" height="10" fill="#ff0065"/><rect x="157" y="294" width="20" height="10" fill="#ff0067"/><rect x="177" y="294" width="10" height="10" fill="#ff0066"/><rect x="187" y="294" width="10" height="10" fill="#ff0064"/><rect x="197" y="294" width="20" height="10" fill="#ff0063"/><rect x="217" y="294" width="10" height="10" fill="#ff0065"/><rect x="227" y="294" width="10" height="10" fill="#ff0067"/><rect x="237" y="294" width="70" height="10" fill="#ff0069"/><rect x="307" y="294" width="40" height="10" fill="#ff006a"/><rect x="347" y="294" width="10" height="10" fill="#ff0068"/><rect x="357" y="294" width="10" height="10" fill="#ff0066"/><rect x="367" y="294" width="10" height="10" fill="#ff0063"/><rect x="377" y="294" width="10" height="10" fill="#ff005f"/><rect x="387" y="294" width="10" height="10" fill="#ff005c"/><rect x="397" y="294" width="10" height="10" fill="#ff0058"/><rect x="407" y="294" width="10" height="10" fill="#ff0054"/><rect x="417" y="294" width="10" height="10" fill="#ff0051"/><rect x="427" y="294" width="10" height="10" fill="#ff004f"/><rect x="437" y="294" width="30" height="10" fill="#ff004e"/><rect x="467" y="294" width="10" height="10" fill="#ff004d"/><rect x="477" y="294" width="10" height="10" fill="#ff004b"/><rect x="487" y="294" width="10" height="10" fill="#ff0049"/><rect x="497" y="294" width="40" height="10" fill="#ff0048"/><rect x="537" y="294" width="30" height="10" fill="#ff0047"/>
<rect x="97" y="304" width="30" height="10" fill="#ff0060"/><rect x="127" y="304" width="10" height="10" fill="#ff0061"/><rect x="137" y="304" width="10" height="10" fill="#ff0063"/><rect x="147" y="304" width="10" height="10" fill="#ff0066"/><rect x="157" y="304" width="10" height="10" fill="#ff0068"/><rect x="167" y="304" width="10" height="10" fill="#ff0067"/><rect x="177" y="304" width="10" height="10" fill="#ff0065"/><rect x="187" y="304" width="10" height="10" fill="#ff0063"/><rect x="197" y="304" width="20" height="10" fill="#ff0061"/><rect x="217" y="304" width="10" height="10" fill="#ff0062"/><rect x="227" y="304" width="10" height="10" fill="#ff0066"/><rect x="237" y="304" width="10" height="10" fill="#ff0068"/><rect x="247" y="304" width="50" height="10" fill="#ff0069"/><rect x="297" y="304" width="10" height="10" fill="#ff006a"/><rect x="307" y="304" width="40" height="10" fill="#ff006b"/><rect x="347" y="304" width="10" height="10" fill="#ff006a"/><rect x="357" y="304" width="10" height="10" fill="#ff0067"/><rect x="367" y="304" width="10" height="10" fill="#ff0065"/><rect x="377" y="304" width="10" height="10" fill="#ff0062"/><rect x="387" y="304" width="10" height="10" fill="#ff005e"/><rect x="397" y="304" width="10" height="10" fill="#ff005a"/><rect x="407" y="304" width="10" height="10" fill="#ff0056"/><rect x="417" y="304" width="10" height="10" fill="#ff0052"/><rect x="427" y="304" width="10" height="10" fill="#ff004f"/><rect x="437" y="304" width="30" height="10" fill="#ff004e"/><rect x="467" y="304" width="10" height="10" fill="#ff004d"/><rect x="477" y="304" width="10" height="10" fill="#ff004b"/><rect x="487" y="304" width="10" height="10" fill="#ff0049"/><rect x="497" y="304" width="70" height="10" fill="#ff0048"/>
<rect x="97" y="314" width="30" height="10" fill="#ff0060"/><rect x="127" y="314" width="10" height="10" fill="#ff0061"/><rect x="137" y="314" width="10" height="10" fill="#ff0064"/><rect x="147" y="314" width="10" height="10" fill="#ff0067"/><rect x="157" y="314" width="10" height="10" fill="#ff0069"/><rect x="167" y="314" width="10" height="10" fill="#ff0068"/><rect x="177" y="314" width="10" height="10" fill="#ff0065"/><rect x="187" y="314" width="10" height="10" fill="#ff0062"/><rect x="197" y="314" width="20" height="10" fill="#ff0060"/><rect x="217" y="314" width="10" height="10" fill="#ff0061"/><rect x="227" y="314" width="10" height="10" fill="#ff0065"/><rect x="237" y="314" width="10" height="10" fill="#ff0068"/><rect x="247" y="314" width="10" height="10" fill="#ff0069"/><rect x="257" y="314" width="20" height="10" fill="#ff006a"/><rect x="277" y="314" width="20" height="10" fill="#ff0069"/><rect x="297" y="314" width="10" height="10" fill="#ff006a"/><rect x="307" y="314" width="10" height="10" fill="#ff006b"/><rect x="317" y="314" width="20" height="10" fill="#ff006c"/><rect x="337" y="314" width="10" height="10" fill="#ff006b"/><rect x="347" y="314" width="10" height="10" fill="#ff006a"/><rect x="357" y="314" width="10" height="10" fill="#ff0068"/><rect x="367" y="314" width="10" height="10" fill="#ff0065"/><rect x="377" y="314" width="10" height="10" fill="#ff0063"/><rect x="387" y="314" width="10" height="10" fill="#ff0061"/><rect x="397" y="314" width="10" height="10" fill="#ff005d"/><rect x="407" y="314" width="10" height="10" fill="#ff0059"/><rect x="417" y="314" width="10" height="10" fill="#ff0054"/><rect x="427" y="314" width="10" height="10" fill="#ff0051"/><rect x="437" y="314" width="20" height="10" fill="#ff004f"/><rect x="457" y="314" width="20" height="10" fill="#ff004e"/><rect x="477" y="314" width="10" height="10" fill="#ff004c"/><rect x="487" y="314" width="10" height="10" fill="#ff004a"/><rect x="497" y="314" width="10" height="10" fill="#ff0049"/><rect x="507" y="314" width="20" height="10" fill="#ff0048"/><rect x="527" y="314" width="40" height="10" fill="#ff0049"/>
<rect x="97" y="324" width="20" height="10" fill="#ff005e"/><rect x="117" y="324" width="10" height="10" fill="#ff005f"/><rect x="127" y="324" width="10" height="10" fill="#ff0061"/><rect x="137" y="324" width="10" height="10" fill="#ff0064"/><rect x="147" y="324" width="10" height="10" fill="#ff0068"/><rect x="157" y="324" width="10" height="10" fill="#ff006b"/><rect x="167" y="324" width="10" height="10" fill="#ff006a"/><rect x="177" y="324" width="10" height="10" fill="#ff0065"/><rect x="187" y="324" width="10" height="10" fill="#ff0061"/><rect x="197" y="324" width="10" height="10" fill="#ff0060"/><rect x="207" y="324" width="10" height="10" fill="#ff0061"/><rect x="217" y="324" width="10" height="10" fill="#ff0063"/><rect x="227" y="324" width="10" height="10" fill="#ff0066"/><rect x="237" y="324" width="10" height="10" fill="#ff0069"/><rect x="247" y="324" width="20" height="10" fill="#ff006b"/><rect x="267" y="324" width="10" height="10" fill="#ff006a"/><rect x="277" y="324" width="10" height="10" fill="#ff0069"/><rect x="287" y="324" width="10" height="10" fill="#ff0068"/><rect x="297" y="324" width="10" height="10" fill="#ff0069"/><rect x="307" y="324" width="10" height="10" fill="#ff006a"/><rect x="317" y="324" width="30" height="10" fill="#ff006b"/><rect x="347" y="324" width="10" height="10" fill="#ff006a"/><rect x="357" y="324" width="10" height="10" fill="#ff0067"/><rect x="367" y="324" width="10" height="10" fill="#ff0065"/><rect x="377" y="324" width="10" height="10" fill="#ff0064"/><rect x="387" y="324" width="10" height="10" fill="#ff0063"/><rect x="397" y="324" width="10" height="10" fill="#ff0060"/><rect x="407" y="324" width="10" height="10" fill="#ff005d"/><rect x="417" y="324" width="10" height="10" fill="#ff0058"/><rect x="427" y="324" width="10" height="10" fill="#ff0054"/><rect x="437" y="324" width="10" height="10" fill="#ff0052"/><rect x="447" y="324" width="20" height="10" fill="#ff0050"/><rect x="467" y="324" width="10" height="10" fill="#ff004f"/><rect x="477" y="324" width="10" height="10" fill="#ff004d"/><rect x="487" y="324" width="10" height="10" fill="#ff004b"/><rect x="497" y="324" width="20" height="10" fill="#ff004a"/><rect x="517" y="324" width="10" height="10" fill="#ff0049"/><rect x="527" y="324" width="40" height="10" fill="#ff004a"/>
<rect x="97" y="334" width="30" height="10" fill="#ff005e"/><rect x="127" y="334" width="10" height="10" fill="#ff0061"/><rect x="137" y="334" width="10" height="10" fill="#ff0064"/><rect x="147" y="334" width="10" height="10" fill="#ff0068"/><rect x="157" y="334" width="10" height="10" fill="#ff006e"/><rect x="167" y="334" width="10" height="10" fill="#ff006f"/><rect x="177" y="334" width="10" height="10" fill="#ff0068"/><rect x="187" y="334" width="10" height="10" fill="#ff0061"/><rect x="197" y="334" width="10" height="10" fill="#ff0060"/><rect x="207" y="334" width="10" height="10" fill="#ff0063"/><rect x="217" y="334" width="10" height="10" fill="#ff0067"/><rect x="227" y="334" width="10" height="10" fill="#ff006b"/><rect x="237" y="334" width="10" height="10" fill="#ff006d"/><rect x="247" y="334" width="10" height="10" fill="#ff006e"/><rect x="257" y="334" width="10" height="10" fill="#ff006c"/><rect x="267" y="334" width="10" height="10" fill="#ff006a"/><rect x="277" y="334" width="10" height="10" fill="#ff0068"/><rect x="287" y="334" width="20" height="10" fill="#ff0067"/><rect x="307" y="334" width="10" height="10" fill="#ff0068"/><rect x="317" y="334" width="30" height="10" fill="#ff006a"/><rect x="347" y="334" width="10" height="10" fill="#ff0068"/><rect x="357" y="334" width="10" height="10" fill="#ff0066"/><rect x="367" y="334" width="10" height="10" fill="#ff0065"/><rect x="377" y="334" width="20" height="10" fill="#ff0064"/><rect x="397" y="334" width="10" height="10" fill="#ff0063"/><rect x="407" y="334" width="10" height="10" fill="#ff0060"/><rect x="417" y="334" width="10" height="10" fill="#ff005c"/><rect x="427" y="334" width="10" height="10" fill="#ff0059"/><rect x="437" y="334" width="10" height="10" fill="#ff0056"/><rect x="447" y="334" width="10" height="10" fill="#ff0054"/><rect x="457" y="334" width="10" height="10" fill="#ff0053"/><rect x="467" y="334" width="10" height="10" fill="#ff0051"/><rect x="477" y="334" width="10" height="10" fill="#ff0050"/><rect x="487" y="334" width="10" height="10" fill="#ff004e"/><rect x="497" y="334" width="20" height="10" fill="#ff004c"/><rect x="517" y="334" width="10" height="10" fill="#ff004b"/><rect x="527" y="334" width="40" height="10" fill="#ff004c"/>
<rect x="97" y="344" width="20" height="10" fill="#ff005f"/><rect x="117" y="344" width="10" height="10" fill="#ff0060"/><rect x="127" y="344" width="10" height="10" fill="#ff0063"/><rect x="137" y="344" width="10" height="10" fill="#ff0065"/><rect x="147" y="344" width="10" height="10" fill="#ff006a"/><rect x="157" y="344" width="10" height="10" fill="#ff0074"/><rect x="167" y="344" width="10" height="10" fill="#ff0078"/><rect x="177" y="344" width="10" height="10" fill="#ff0072"/><rect x="187" y="344" width="10" height="10" fill="#ff0068"/><rect x="197" y="344" width="10" height="10" fill="#ff0065"/><rect x="207" y="344" width="10" height="10" fill="#ff0069"/><rect x="217" y="344" width="10" height="10" fill="#ff006f"/><rect x="227" y="344" width="20" height="10" fill="#ff0072"/><rect x="247" y="344" width="10" height="10" fill="#ff0071"/><rect x="257" y="344" width="10" height="10" fill="#ff006e"/><rect x="267" y="344" width="10" height="10" fill="#ff006a"/><rect x="277" y="344" width="10" height="10" fill="#ff0067"/><rect x="287" y="344" width="20" height="10" fill="#ff0065"/><rect x="307" y="344" width="10" height="10" fill="#ff0066"/><rect x="317" y="344" width="10" height="10" fill="#ff0067"/><rect x="327" y="344" width="10" height="10" fill="#ff0069"/><rect x="337" y="344" width="10" height="10" fill="#ff0068"/><rect x="347" y="344" width="10" height="10" fill="#ff0067"/><rect x="357" y="344" width="10" height="10" fill="#ff0065"/><rect x="367" y="344" width="40" height="10" fill="#ff0064"/><rect x="407" y="344" width="10" height="10" fill="#ff0063"/><rect x="417" y="344" width="10" height="10" fill="#ff0060"/><rect x="427" y="344" width="10" height="10" fill="#ff005d"/><rect x="437" y="344" width="10" height="10" fill="#ff005a"/><rect x="447" y="344" width="10" height="10" fill="#ff0058"/><rect x="457" y="344" width="10" height="10" fill="#ff0056"/><rect x="467" y="344" width="10" height="10" fill="#ff0054"/><rect x="477" y="344" width="10" height="10" fill="#ff0052"/><rect x="487" y="344" width="10" height="10" fill="#ff0051"/><rect x="497" y="344" width="10" height="10" fill="#ff004f"/><rect x="507" y="344" width="60" height="10" fill="#ff004e"/>
<rect x="97" y="354" width="20" height="10" fill="#ff0061"/><rect x="117" y="354" width="10" height="10" fill="#ff0062"/><rect x="127" y="354" width="10" height="10" fill="#ff0066"/><rect x="137" y="354" width="10" height="10" fill="#ff0069"/><rect x="147" y="354" width="10" height="10" fill="#ff0071"/><rect x="157" y="354" width="10" height="10" fill="#ff007c"/><rect x="167" y="354" width="10" height="10" fill="#ff0081"/><rect x="177" y="354" width="10" height="10" fill="#ff0080"/><rect x="187" y="354" width="10" height="10" fill="#ff0079"/><rect x="197" y="354" width="10" height="10" fill="#ff0075"/><rect x="207" y="354" width="10" height="10" fill="#ff0076"/><rect x="217" y="354" width="20" height="10" fill="#ff0077"/><rect x="237" y="354" width="10" height="10" fill="#ff0076"/><rect x="247" y="354" width="10" height="10" fill="#ff0073"/><rect x="257" y="354" width="10" height="10" fill="#ff006e"/><rect x="267" y="354" width="10" height="10" fill="#ff006a"/><rect x="277" y="354" width="10" height="10" fill="#ff0066"/><rect x="287" y="354" width="10" height="10" fill="#ff0065"/><rect x="297" y="354" width="10" height="10" fill="#ff0064"/><rect x="307" y="354" width="10" height="10" fill="#ff0065"/><rect x="317" y="354" width="10" height="10" fill="#ff0066"/><rect x="327" y="354" width="20" height="10" fill="#ff0067"/><rect x="347" y="354" width="10" height="10" fill="#ff0066"/><rect x="357" y="354" width="10" height="10" fill="#ff0065"/><rect x="367" y="354" width="30" height="10" fill="#ff0064"/><rect x="397" y="354" width="20" height="10" fill="#ff0065"/><rect x="417" y="354" width="10" height="10" fill="#ff0063"/><rect x="427" y="354" width="10" height="10" fill="#ff0060"/><rect x="437" y="354" width="10" height="10" fill="#ff005e"/><rect x="447" y="354" width="10" height="10" fill="#ff005c"/><rect x="457" y="354" width="10" height="10" fill="#ff005a"/><rect x="467" y="354" width="10" height="10" fill="#ff0058"/><rect x="477" y="354" width="10" height="10" fill="#ff0055"/><rect x="487" y="354" width="10" height="10" fill="#ff0053"/><rect x="497" y="354" width="10" height="10" fill="#ff0051"/><rect x="507" y="354" width="30" height="10" fill="#ff0050"/><rect x="537" y="354" width="30" height="10" fill="#ff004f"/>
<rect x="97" y="364" width="20" height="10" fill="#ff0060"/><rect x="117" y="364" width="10" height="10" fill="#ff0062"/><rect x="127" y="364" width="10" height="10" fill="#ff0069"/><rect x="137" y="364" width="10" height="10" fill="#ff0074"/><rect x="147" y="364" width="10" height="10" fill="#ff007d"/><rect x="157" y="364" width="10" height="10" fill="#ff0083"/><rect x="167" y="364" width="10" height="10" fill="#ff0086"/><rect x="177" y="364" width="20" height="10" fill="#ff0087"/><rect x="197" y="364" width="10" height="10" fill="#ff0085"/><rect x="207" y="364" width="10" height="10" fill="#ff007f"/><rect x="217" y="364" width="10" height="10" fill="#ff007a"/><rect x="227" y="364" width="10" height="10" fill="#ff0079"/><rect x="237" y="364" width="10" height="10" fill="#ff0077"/><rect x="247" y="364" width="10" height="10" fill="#ff0073"/><rect x="257" y="364" width="10" height="10" fill="#ff006e"/><rect x="267" y="364" width="10" height="10" fill="#ff006a"/><rect x="277" y="364" width="10" height="10" fill="#ff0067"/><rect x="287" y="364" width="30" height="10" fill="#ff0065"/><rect x="317" y="364" width="10" height="10" fill="#ff0067"/><rect x="327" y="364" width="20" height="10" fill="#ff0068"/><rect x="347" y="364" width="10" height="10" fill="#ff0067"/><rect x="357" y="364" width="40" height="10" fill="#ff0065"/><rect x="397" y="364" width="20" height="10" fill="#ff0067"/><rect x="417" y="364" width="10" height="10" fill="#ff0065"/><rect x="427" y="364" width="10" height="10" fill="#ff0062"/><rect x="437" y="364" width="10" height="10" fill="#ff0060"/><rect x="447" y="364" width="10" height="10" fill="#ff005e"/><rect x="457" y="364" width="10" height="10" fill="#ff005c"/><rect x="467" y="364" width="10" height="10" fill="#ff005a"/><rect x="477" y="364" width="10" height="10" fill="#ff0056"/><rect x="487" y="364" width="10" height="10" fill="#ff0054"/><rect x="497" y="364" width="10" height="10" fill="#ff0052"/><rect x="507" y="364" width="10" height="10" fill="#ff0051"/><rect x="517" y="364" width="50" height="10" fill="#ff0050"/>
<rect x="97" y="374" width="20" height="10" fill="#ff005e"/><rect x="117" y="374" width="10" height="10" fill="#ff0060"/><rect x="127" y="374" width="10" height="10" fill="#ff006b"/><rect x="137" y="374" width="10" height="10" fill="#ff007b"/><rect x="147" y="374" width="10" height="10" fill="#ff0083"/><rect x="157" y="374" width="10" height="10" fill="#ff0087"/><rect x="167" y="374" width="10" height="10" fill="#ff008b"/><rect x="177" y="374" width="10" height="10" fill="#ff008e"/><rect x="187" y="374" width="20" height="10" fill="#ff0091"/><rect x="207" y="374" width="10" height="10" fill="#ff0088"/><rect x="217" y="374" width="10" height="10" fill="#ff007d"/><rect x="227" y="374" width="10" height="10" fill="#ff007a"/><rect x="237" y="374" width="10" height="10" fill="#ff0077"/><rect x="247" y="374" width="10" height="10" fill="#ff0070"/><rect x="257" y="374" width="10" height="10" fill="#ff006b"/><rect x="267" y="374" width="10" height="10" fill="#ff006a"/><rect x="277" y="374" width="10" height="10" fill="#ff0068"/><rect x="287" y="374" width="10" height="10" fill="#ff0067"/><rect x="297" y="374" width="10" height="10" fill="#ff0066"/><rect x="307" y="374" width="10" height="10" fill="#ff0067"/><rect x="317" y="374" width="40" height="10" fill="#ff0068"/><rect x="357" y="374" width="10" height="10" fill="#ff0067"/><rect x="367" y="374" width="10" height="10" fill="#ff0066"/><rect x="377" y="374" width="10" height="10" fill="#ff0067"/><rect x="387" y="374" width="10" height="10" fill="#ff0069"/><rect x="397" y="374" width="10" height="10" fill="#ff006b"/><rect x="407" y="374" width="10" height="10" fill="#ff006a"/><rect x="417" y="374" width="10" height="10" fill="#ff0067"/><rect x="427" y="374" width="10" height="10" fill="#ff0063"/><rect x="437" y="374" width="10" height="10" fill="#ff0060"/><rect x="447" y="374" width="10" height="10" fill="#ff005f"/><rect x="457" y="374" width="10" height="10" fill="#ff005e"/><rect x="467" y="374" width="10" height="10" fill="#ff005b"/><rect x="477" y="374" width="10" height="10" fill="#ff0057"/><rect x="487" y="374" width="10" height="10" fill="#ff0053"/><rect x="497" y="374" width="20" height="10" fill="#ff0051"/><rect x="517" y="374" width="50" height="10" fill="#ff0050"/>
<rect x="97" y="384" width="20" height="10" fill="#ff005f"/><rect x="117" y="384" width="10" height="10" fill="#ff0061"/><rect x="127" y="384" width="10" height="10" fill="#ff006b"/><rect x="137" y="384" width="10" height="10" fill="#ff0079"/><rect x="147" y="384" width="10" height="10" fill="#ff0084"/><rect x="157" y="384" width="10" height="10" fill="#ff008e"/><rect x="167" y="384" width="10" height="10" fill="#ff0096"/><rect x="177" y="384" width="20" height="10" fill="#ff0099"/><rect x="197" y="384" width="10" height="10" fill="#ff0097"/><rect x="207" y="384" width="10" height="10" fill="#ff0090"/><rect x="217" y="384" width="10" height="10" fill="#ff0083"/><rect x="227" y="384" width="10" height="10" fill="#ff007c"/><rect x="237" y="384" width="10" height="10" fill="#ff0075"/><rect x="247" y="384" width="10" height="10" fill="#ff006c"/><rect x="257" y="384" width="60" height="10" fill="#ff0068"/><rect x="317" y="384" width="40" height="10" fill="#ff0069"/><rect x="357" y="384" width="10" height="10" fill="#ff0068"/><rect x="367" y="384" width="10" height="10" fill="#ff0069"/><rect x="377" y="384" width="10" height="10" fill="#ff006b"/><rect x="387" y="384" width="20" height="10" fill="#ff006e"/><rect x="407" y="384" width="10" height="10" fill="#ff006d"/><rect x="417" y="384" width="10" height="10" fill="#ff0068"/><rect x="427" y="384" width="10" height="10" fill="#ff0062"/><rect x="437" y="384" width="10" height="10" fill="#ff0060"/><rect x="447" y="384" width="10" height="10" fill="#ff005f"/><rect x="457" y="384" width="10" height="10" fill="#ff005e"/><rect x="467" y="384" width="10" height="10" fill="#ff005c"/><rect x="477" y="384" width="10" height="10" fill="#ff0057"/><rect x="487" y="384" width="10" height="10" fill="#ff0052"/><rect x="497" y="384" width="10" height="10" fill="#ff0051"/><rect x="507" y="384" width="60" height="10" fill="#ff0050"/>
<rect x="97" y="394" width="20" height="10" fill="#ff005f"/><rect x="117" y="394" width="10" height="10" fill="#ff0061"/><rect x="127" y="394" width="10" height="10" fill="#ff0068"/><rect x="137" y="394" width="10" height="10" fill="#ff0076"/><rect x="147" y="394" width="10" height="10" fill="#ff0083"/><rect x="157" y="394" width="10" height="10" fill="#ff0096"/><rect x="167" y="394" width="10" height="10" fill="#ff00a0"/><rect x="177" y="394" width="10" height="10" fill="#ff00a2"/><rect x="187" y="394" width="10" height="10" fill="#ff00a0"/><rect x="197" y="394" width="10" height="10" fill="#ff009a"/><rect x="207" y="394" width="10" height="10" fill="#ff0091"/><rect x="217" y="394" width="10" height="10" fill="#ff0083"/><rect x="227" y="394" width="10" height="10" fill="#ff007b"/><rect x="237" y="394" width="10" height="10" fill="#ff0076"/><rect x="247" y="394" width="10" height="10" fill="#ff006b"/><rect x="257" y="394" width="20" height="10" fill="#ff0067"/><rect x="277" y="394" width="10" height="10" fill="#ff0068"/><rect x="287" y="394" width="70" height="10" fill="#ff0069"/><rect x="357" y="394" width="10" height="10" fill="#ff006a"/><rect x="367" y="394" width="10" height="10" fill="#ff006b"/><rect x="377" y="394" width="10" height="10" fill="#ff006e"/><rect x="387" y="394" width="20" height="10" fill="#ff006f"/><rect x="407" y="394" width="10" height="10" fill="#ff006e"/><rect x="417" y="394" width="10" height="10" fill="#ff0069"/><rect x="427" y="394" width="10" height="10" fill="#ff0062"/><rect x="437" y="394" width="30" height="10" fill="#ff005f"/><rect x="467" y="394" width="10" height="10" fill="#ff005c"/><rect x="477" y="394" width="10" height="10" fill="#ff0056"/><rect x="487" y="394" width="10" height="10" fill="#ff0052"/><rect x="497" y="394" width="70" height="10" fill="#ff0050"/>
<rect x="97" y="404" width="20" height="10" fill="#ff005d"/><rect x="117" y="404" width="10" height="10" fill="#ff005e"/><rect x="127" y="404" width="10" height="10" fill="#ff0066"/><rect x="137" y="404" width="10" height="10" fill="#ff0074"/><rect x="147" y="404" width="10" height="10" fill="#ff0082"/><rect x="157" y="404" width="10" height="10" fill="#ff0097"/><rect x="167" y="404" width="10" height="10" fill="#ff00a1"/><rect x="177" y="404" width="20" height="10" fill="#ff00a3"/><rect x="197" y="404" width="10" height="10" fill="#ff009e"/><rect x="207" y="404" width="10" height="10" fill="#ff0091"/><rect x="217" y="404" width="10" height="10" fill="#ff0082"/><rect x="227" y="404" width="10" height="10" fill="#ff007b"/><rect x="237" y="404" width="10" height="10" fill="#ff0077"/><rect x="247" y="404" width="10" height="10" fill="#ff006d"/><rect x="257" y="404" width="20" height="10" fill="#ff0068"/><rect x="277" y="404" width="10" height="10" fill="#ff0069"/><rect x="287" y="404" width="20" height="10" fill="#ff006a"/><rect x="307" y="404" width="50" height="10" fill="#ff0069"/><rect x="357" y="404" width="10" height="10" fill="#ff006a"/><rect x="367" y="404" width="10" height="10" fill="#ff006c"/><rect x="377" y="404" width="10" height="10" fill="#ff006e"/><rect x="387" y="404" width="20" height="10" fill="#ff006f"/><rect x="407" y="404" width="10" height="10" fill="#ff006e"/><rect x="417" y="404" width="10" height="10" fill="#ff0069"/><rect x="427" y="404" width="10" height="10" fill="#ff0062"/><rect x="437" y="404" width="10" height="10" fill="#ff0060"/><rect x="447" y="404" width="10" height="10" fill="#ff005f"/><rect x="457" y="404" width="10" height="10" fill="#ff005e"/><rect x="467" y="404" width="10" height="10" fill="#ff005c"/><rect x="477" y="404" width="10" height="10" fill="#ff0056"/><rect x="487" y="404" width="10" height="10" fill="#ff0052"/><rect x="497" y="404" width="70" height="10" fill="#ff0050"/>
<rect x="97" y="414" width="20" height="10" fill="#ff005d"/><rect x="117" y="414" width="10" height="10" fill="#ff005e"/><rect x="127" y="414" width="10" height="10" fill="#ff0066"/><rect x="137" y="414" width="10" height="10" fill="#ff0074"/><rect x="147" y="414" width="10" height="10" fill="#ff0082"/><rect x="157" y="414" width="10" height="10" fill="#ff0096"/><rect x="167" y="414" width="10" height="10" fill="#ff00a1"/><rect x="177" y="414" width="20" height="10" fill="#ff00a3"/><rect x="197" y="414" width="10" height="10" fill="#ff009e"/><rect x="207" y="414" width="10" height="10" fill="#ff0091"/><rect x="217" y="414" width="10" height="10" fill="#ff0082"/><rect x="227" y="414" width="10" height="10" fill="#ff007c"/><rect x="237" y="414" width="10" height="10" fill="#ff0077"/><rect x="247" y="414" width="10" height="10" fill="#ff006e"/><rect x="257" y="414" width="20" height="10" fill="#ff0069"/><rect x="277" y="414" width="30" height="10" fill="#ff006a"/><rect x="307" y="414" width="50" height="10" fill="#ff0069"/><rect x="357" y="414" width="10" height="10" fill="#ff006a"/><rect x="367" y="414" width="10" height="10" fill="#ff006c"/><rect x="377" y="414" width="10" height="10" fill="#ff006e"/><rect x="387" y="414" width="20" height="10" fill="#ff006f"/><rect x="407" y="414" width="10" height="10" fill="#ff006e"/><rect x="417" y="414" width="10" height="10" fill="#ff0069"/><rect x="427" y="414" width="10" height="10" fill="#ff0063"/><rect x="437" y="414" width="10" height="10" fill="#ff0060"/><rect x="447" y="414" width="10" height="10" fill="#ff005f"/><rect x="457" y="414" width="10" height="10" fill="#ff005e"/><rect x="467" y="414" width="10" height="10" fill="#ff005c"/><rect x="477" y="414" width="10" height="10" fill="#ff0056"/><rect x="487" y="414" width="10" height="10" fill="#ff0052"/><rect x="497" y="414" width="70" height="10" fill="#ff0050"/>
<rect x="97" y="424" width="20" height="10" fill="#ff005d"/><rect x="117" y="424" width="10" height="10" fill="#ff005e"/><rect x="127" y="424" width="10" height="10" fill="#ff0066"/><rect x="137" y="424" width="10" height="10" fill="#ff0074"/><rect x="147" y="424" width="10" height="10" fill="#ff0082"/><rect x="157" y="424" width="10" height="10" fill="#ff0096"/><rect x="167" y="424" width="10" height="10" fill="#ff00a1"/><rect x="177" y="424" width="20" height="10" fill="#ff00a3"/><rect x="197" y="424" width="10" height="10" fill="#ff009e"/><rect x="207" y="424" width="10" height="10" fill="#ff0091"/><rect x="217" y="424" width="10" height="10" fill="#ff0082"/><rect x="227" y="424" width="10" height="10" fill="#ff007c"/><rect x="237" y="424" width="10" height="10" fill="#ff0077"/><rect x="247" y="424" width="10" height="10" fill="#ff006e"/><rect x="257" y="424" width="20" height="10" fill="#ff0069"/><rect x="277" y="424" width="30" height="10" fill="#ff006a"/><rect x="307" y="424" width="50" height="10" fill="#ff0069"/><rect x="357" y="424" width="10" height="10" fill="#ff006a"/><rect x="367" y="424" width="10" height="10" fill="#ff006c"/><rect x="377" y="424" width="10" height="10" fill="#ff006e"/><rect x="387" y="424" width="20" height="10" fill="#ff006f"/><rect x="407" y="424" width="10" height="10" fill="#ff006e"/><rect x="417" y="424" width="10" height="10" fill="#ff0069"/><rect x="427" y="424" width="10" height="10" fill="#ff0063"/><rect x="437" y="424" width="10" height="10" fill="#ff0060"/><rect x="447" y="424" width="10" height="10" fill="#ff005f"/><rect x="457" y="424" width="10" height="10" fill="#ff005e"/><rect x="467" y="424" width="10" height="10" fill="#ff005c"/><rect x="477" y="424" width="10" height="10" fill="#ff0056"/><rect x="487" y="424" width="10" height="10" fill="#ff0052"/><rect x="497" y="424" width="70" height="10" fill="#ff0050"/>
</g>
<g shape-rendering="crispEdges">
<polyline points="117.0,96.7 120.7,96.3 124.8,96.0 129.8,95.0 133.2,92.7 136.5,91.3 141.5,91.7 147.3,91.7 151.5,90.0 155.7,90.5 159.8,92.7 163.2,95.0 168.2,96.3 172.5,98.3 176.7,100.0 181.7,99.3 185.0,101.0 186.7,104.7 188.3,108.8 191.7,110.5 196.7,109.7 202.5,109.3 205.8,109.7 206.7,112.2 204.2,113.8 198.3,113.8 194.2,113.3 192.5,115.5 195.8,117.2 201.7,118.0 208.3,118.8 213.3,120.5 218.3,122.2 223.3,125.0" fill="none" stroke="#000" stroke-width="2.0" stroke-linejoin="round" stroke-linecap="round"/>
<polyline points="133.2,92.7 132.0,96.3 132.3,100.5 132.0,104.7 130.3,108.3 130.7,112.7 130.7,115.5 128.7,118.8 126.5,121.3 124.0,122.5" fill="none" stroke="#000" stroke-width="2.0" stroke-linejoin="round" stroke-linecap="round"/>
<polyline points="126.5,123.3 128.2,126.7 126.0,129.7 122.7,131.0 120.7,132.3" fill="none" stroke="#000" stroke-width="2.0" stroke-linejoin="round" stroke-linecap="round"/>
<polyline points="117.0,141.7 121.5,144.3 125.7,146.3 129.3,148.3 130.7,150.0 132.3,153.8 134.0,157.2 136.5,160.5 137.3,163.0 139.0,163.0 140.7,160.0 142.3,155.5 144.8,152.2 148.2,148.8 149.8,145.5 150.3,143.0 146.5,141.7 144.8,141.3 147.3,140.0 151.5,141.0 155.7,139.7 159.0,138.0 164.0,137.7 164.8,141.0 168.2,143.8" fill="none" stroke="#000" stroke-width="2.0" stroke-linejoin="round" stroke-linecap="round"/>
<polyline points="122.7,136.0 126.5,138.0 129.8,140.0 130.7,143.0 129.3,145.5 129.8,148.3" fill="none" stroke="#000" stroke-width="2.0" stroke-linejoin="round" stroke-linecap="round"/>
<polygon points="121.5,122.0 125.7,121.7 126.3,123.3 122.3,124.0" fill="#000" stroke="#000" stroke-width="2.0" stroke-linejoin="round" stroke-linecap="round"/>
<polygon points="120.0,131.0 123.7,130.7 124.3,133.3 122.3,135.7 120.3,134.0" fill="#000" stroke="#000" stroke-width="2.0" stroke-linejoin="round" stroke-linecap="round"/>
<polygon points="128.0,133.3 132.3,132.7 137.0,135.7 136.3,137.3 132.3,136.8 128.7,135.5" fill="#000" stroke="#000" stroke-width="2.0" stroke-linejoin="round" stroke-linecap="round"/>
<polyline points="168.2,143.8 169.2,143.8 175.0,143.8 180.0,141.3 182.5,138.8 186.7,137.2 191.7,136.7 195.8,138.0 200.0,137.7 204.2,137.2 209.2,138.0 214.2,138.8 217.5,140.5" fill="none" stroke="#000" stroke-width="2.0" stroke-linejoin="round" stroke-linecap="round"/>
<polyline points="219.1,121.2 223.7,125.5 228.4,129.2 231.2,132.0 230.8,134.8 228.4,136.7 227.5,139.1 226.1,140.5 223.7,140.5 222.8,142.8 222.3,144.7 224.2,146.6 223.7,148.0 220.5,148.0 219.1,146.1 218.9,143.7 217.2,141.9 216.2,140.0 212.5,138.1 207.8,137.7 205.0,137.7" fill="none" stroke="#000" stroke-width="2.0" stroke-linejoin="round" stroke-linecap="round"/>
<polygon points="241.1,147.0 246.2,147.5 244.8,149.8 242.5,149.4" fill="#000" stroke="#000" stroke-width="2.0" stroke-linejoin="round" stroke-linecap="round"/>
<polygon points="255.2,139.5 257.5,139.5 257.5,140.5 255.2,140.5" fill="#000" stroke="#000" stroke-width="1.0" stroke-linejoin="round" stroke-linecap="round"/>
<polyline points="133.2,94.3 139.0,98.0 145.7,100.5 154.0,103.0 161.5,105.5 163.2,111.3 163.7,115.5 159.0,117.2 154.5,118.5 153.2,123.0 151.0,128.0 152.0,132.2 149.8,135.5 146.5,138.8 148.2,142.2" fill="none" stroke="#b8b8b8" stroke-width="1.2" stroke-linejoin="round" stroke-linecap="round"/>
<polyline points="117.0,112.7 121.5,113.8 124.8,116.3 127.3,119.7 130.7,118.0 134.0,115.5 135.3,112.2 136.5,110.5" fill="none" stroke="#b8b8b8" stroke-width="1.2" stroke-linejoin="round" stroke-linecap="round"/>
<polyline points="165.0,112.7 170.0,113.8 175.0,115.5 181.7,114.7 188.3,114.3 193.3,113.0" fill="none" stroke="#b8b8b8" stroke-width="1.2" stroke-linejoin="round" stroke-linecap="round"/>
<polyline points="178.3,115.5 175.0,119.7 171.7,122.2 167.5,123.0 168.3,128.0 166.7,132.2 167.5,138.0 165.8,142.2" fill="none" stroke="#b8b8b8" stroke-width="1.2" stroke-linejoin="round" stroke-linecap="round"/>
<polyline points="175.0,124.7 179.2,125.5 182.5,123.8 185.0,128.0 188.3,132.2 185.0,136.3 181.7,138.0 178.3,133.0 175.8,128.8 175.0,124.7" fill="none" stroke="#b8b8b8" stroke-width="1.2" stroke-linejoin="round" stroke-linecap="round"/>
<polyline points="200.8,123.8 198.3,125.5 199.2,130.5 200.8,134.7 202.5,137.7" fill="none" stroke="#b8b8b8" stroke-width="1.2" stroke-linejoin="round" stroke-linecap="round"/>
<polyline points="218.3,127.2 220.0,132.2 221.7,137.2 223.3,140.0" fill="none" stroke="#b8b8b8" stroke-width="1.2" stroke-linejoin="round" stroke-linecap="round"/>
<polyline points="265.8,136.0 269.5,135.7 274.1,136.3 280.1,137.2 287.6,137.2 295.1,136.8 298.1,137.5 301.1,138.3 307.1,138.8 311.7,139.4 312.0,143.6 310.2,145.8 307.1,147.3 305.6,150.3 301.9,151.8 298.1,152.3 295.1,153.3 292.9,153.8 290.6,152.3 284.6,152.3 280.1,151.8 272.6,152.3 266.5,151.8 265.0,150.3 265.0,146.6 264.3,143.6 263.2,140.6 265.0,138.3 265.8,136.0" fill="none" stroke="#000" stroke-width="2.0" stroke-linejoin="round" stroke-linecap="round"/>
<polygon points="255.6,139.4 257.2,139.4 257.2,140.4 255.6,140.4" fill="#000" stroke="#000" stroke-width="0.6" stroke-linejoin="round" stroke-linecap="round"/>
<polygon points="319.5,140.7 323.4,141.0 323.1,142.5 319.8,142.4" fill="#000" stroke="#000" stroke-width="0.8" stroke-linejoin="round" stroke-linecap="round"/>
<polygon points="312.7,147.0 316.9,146.3 321.9,146.4 320.4,147.8 314.7,148.7" fill="#000" stroke="#000" stroke-width="0.8" stroke-linejoin="round" stroke-linecap="round"/>
<polygon points="328.5,140.3 332.7,138.8 337.2,138.0 341.7,136.5 346.2,135.7 347.4,136.9 345.9,138.9 343.2,140.9 337.2,141.8 332.0,141.8" fill="#000" stroke="#000" stroke-width="0.8" stroke-linejoin="round" stroke-linecap="round"/>
<polygon points="347.3,128.2 348.9,128.2 348.9,129.3 347.3,129.3" fill="#000" stroke="#000" stroke-width="0.6" stroke-linejoin="round" stroke-linecap="round"/>
<polygon points="333.0,158.3 336.5,157.5 342.9,158.2 342.9,159.2 338.7,159.8 334.2,161.2 332.7,160.0" fill="#000" stroke="#000" stroke-width="0.8" stroke-linejoin="round" stroke-linecap="round"/>
<polygon points="347.6,128.7 351.4,128.7 351.4,130.4 347.6,130.4" fill="#000" stroke="#000" stroke-width="0.6" stroke-linejoin="round" stroke-linecap="round"/>
<polygon points="340.0,137.6 344.2,136.5 349.3,135.5 349.3,137.2 344.2,140.1 341.1,141.2" fill="#000" stroke="#000" stroke-width="0.8" stroke-linejoin="round" stroke-linecap="round"/>
<polygon points="340.0,158.8 343.8,158.8 343.8,160.3 340.0,160.3" fill="#000" stroke="#000" stroke-width="1.5" stroke-linejoin="round" stroke-linecap="round"/>
<polygon points="376.2,132.1 377.9,132.1 377.9,133.6 376.2,133.6" fill="#000" stroke="#000" stroke-width="0.6" stroke-linejoin="round" stroke-linecap="round"/>
<polygon points="381.5,142.2 383.2,142.2 383.2,143.9 381.5,143.9" fill="#000" stroke="#000" stroke-width="0.6" stroke-linejoin="round" stroke-linecap="round"/>
<polygon points="385.5,145.2 390.5,142.0 391.4,143.7 389.3,146.8 388.6,150.6 385.7,149.8 384.6,147.1" fill="#000" stroke="#000" stroke-width="0.8" stroke-linejoin="round" stroke-linecap="round"/>
<polygon points="392.8,153.6 396.2,153.6 396.2,155.1 392.8,155.1" fill="#000" stroke="#000" stroke-width="0.6" stroke-linejoin="round" stroke-linecap="round"/>
<polygon points="389.7,165.4 391.4,165.8 391.4,168.7 390.1,168.3" fill="#000" stroke="#000" stroke-width="0.6" stroke-linejoin="round" stroke-linecap="round"/>
<polyline points="393.7,170.0 395.8,169.6 398.9,172.1 402.1,175.3 403.2,178.4 401.1,178.4 397.9,174.2 394.7,173.2 393.7,170.0" fill="none" stroke="#000" stroke-width="2.0" stroke-linejoin="round" stroke-linecap="round"/>
<polyline points="422.7,159.5 425.3,159.5 427.4,162.6 426.7,165.2 424.2,164.7 423.2,161.6 422.7,159.5" fill="none" stroke="#000" stroke-width="2.0" stroke-linejoin="round" stroke-linecap="round"/>
<polyline points="422.7,177.4 426.3,176.3 429.5,178.4 428.8,181.6 425.3,182.0 423.2,180.5 422.7,177.4" fill="none" stroke="#000" stroke-width="2.0" stroke-linejoin="round" stroke-linecap="round"/>
<polygon points="412.8,187.7 414.5,188.1 414.9,191.5 413.5,191.9" fill="#000" stroke="#000" stroke-width="0.8" stroke-linejoin="round" stroke-linecap="round"/>
<polyline points="425.8,202.5 429.2,201.3 432.5,202.5 433.3,206.7 432.5,211.7 430.0,213.3 427.5,211.7 426.3,206.7 425.8,202.5" fill="none" stroke="#000" stroke-width="2.0" stroke-linejoin="round" stroke-linecap="round"/>
<polyline points="433.3,202.5 434.2,198.3 435.8,196.7 438.0,199.2 439.2,202.5 444.2,203.7 444.2,205.3 439.2,205.8 435.0,205.8 433.3,206.7" fill="none" stroke="#000" stroke-width="2.0" stroke-linejoin="round" stroke-linecap="round"/>
<polyline points="445.8,202.5 450.0,201.3" fill="none" stroke="#000" stroke-width="2.0" stroke-linejoin="round" stroke-linecap="round"/>
<polyline points="439.7,213.3 442.0,212.0 444.2,214.2 443.0,216.7 440.8,217.0 439.7,215.0 439.7,213.3" fill="none" stroke="#000" stroke-width="2.0" stroke-linejoin="round" stroke-linecap="round"/>
<polyline points="429.7,216.7 433.3,215.8" fill="none" stroke="#000" stroke-width="2.0" stroke-linejoin="round" stroke-linecap="round"/>
<polyline points="434.7,224.2 437.5,223.3 440.8,225.0 442.5,230.0 442.5,235.0 440.0,237.5 438.3,235.0 436.7,230.0 435.0,226.7 434.7,224.2" fill="none" stroke="#000" stroke-width="2.0" stroke-linejoin="round" stroke-linecap="round"/>
<polyline points="443.0,247.5 445.8,246.7 449.2,248.3 451.7,250.8 454.2,250.0 453.3,253.3 455.8,256.7 455.8,260.0 453.3,261.3 450.0,260.0 447.5,260.0 446.7,256.7 445.0,252.5 443.3,250.0 443.0,247.5" fill="none" stroke="#000" stroke-width="2.0" stroke-linejoin="round" stroke-linecap="round"/>
<polyline points="449.1,272.2 451.5,270.9 454.0,272.2 454.7,276.9 453.4,281.6 451.0,283.4 448.4,280.6 447.8,275.9 449.1,272.2" fill="none" stroke="#000" stroke-width="2.0" stroke-linejoin="round" stroke-linecap="round"/>
<polyline points="442.7,293.7 445.0,292.2 447.2,294.1 447.2,297.5 445.4,300.3 443.1,299.7 442.0,296.5 442.7,293.7" fill="none" stroke="#000" stroke-width="2.0" stroke-linejoin="round" stroke-linecap="round"/>
<polyline points="442.2,304.0 445.9,305.0 446.9,306.9 444.6,308.4" fill="none" stroke="#000" stroke-width="2.0" stroke-linejoin="round" stroke-linecap="round"/>
<polyline points="439.4,313.4 440.3,315.3" fill="none" stroke="#000" stroke-width="2.0" stroke-linejoin="round" stroke-linecap="round"/>
<polygon points="436.5,318.1 439.4,317.2 439.7,320.0 437.1,321.8" fill="#000" stroke="#000" stroke-width="1.5" stroke-linejoin="round" stroke-linecap="round"/>
<polyline points="432.8,325.6 433.7,326.5" fill="none" stroke="#000" stroke-width="2.0" stroke-linejoin="round" stroke-linecap="round"/>
<polyline points="428.1,330.3 430.9,327.5 433.7,327.1 434.1,331.2 431.9,335.0 429.0,336.5 427.2,334.6 428.1,330.3" fill="none" stroke="#000" stroke-width="2.0" stroke-linejoin="round" stroke-linecap="round"/>
<polyline points="490.9,294.1 493.1,293.7 495.6,296.5 498.4,299.0 498.4,301.6 495.6,303.1 492.8,301.6 491.5,298.4 490.9,294.1" fill="none" stroke="#000" stroke-width="2.0" stroke-linejoin="round" stroke-linecap="round"/>
<polyline points="117.8,325.8 121.4,323.7 126.6,320.5 132.9,320.9 138.2,322.6 142.4,326.8 143.4,331.0 141.3,336.3 137.1,340.5 130.8,342.6 124.5,344.7 119.3,346.8 117.8,347.9" fill="none" stroke="#000" stroke-width="2.0" stroke-linejoin="round" stroke-linecap="round"/>
<polygon points="118.2,325.8 121.4,325.8 121.4,330.0 118.2,330.0" fill="#000" stroke="#000" stroke-width="2.0" stroke-linejoin="round" stroke-linecap="round"/>
<polyline points="118.2,348.9 118.6,354.2 121.4,359.4 125.6,363.6 129.8,365.7 134.0,367.8 137.1,366.4 141.3,364.3 147.6,361.5 154.0,359.4 160.3,357.3 166.6,355.2 172.9,353.1 176.0,351.0" fill="none" stroke="#000" stroke-width="2.0" stroke-linejoin="round" stroke-linecap="round"/>
<polyline points="176.0,351.0 173.9,347.9 170.8,344.7 170.4,339.4 171.8,334.2 175.0,330.6 179.2,329.3 182.3,331.0 183.8,336.3 183.4,341.5 184.5,345.8 186.6,348.9 187.6,351.0 183.4,352.1 179.2,351.6 176.0,351.0" fill="none" stroke="#000" stroke-width="2.0" stroke-linejoin="round" stroke-linecap="round"/>
<polygon points="174.6,348.9 179.2,348.9 179.6,353.1 175.0,353.1" fill="#000" stroke="#000" stroke-width="2.0" stroke-linejoin="round" stroke-linecap="round"/>
<polyline points="187.6,351.0 193.9,349.5 200.2,349.5 206.5,350.4 212.8,351.6 218.1,354.2 221.3,357.3 224.0,359.4" fill="none" stroke="#000" stroke-width="2.0" stroke-linejoin="round" stroke-linecap="round"/>
<polyline points="134.0,367.8 131.9,371.0 129.8,374.1 130.4,378.3 128.7,382.6 124.5,386.8 120.3,391.0 117.8,393.1" fill="none" stroke="#000" stroke-width="2.0" stroke-linejoin="round" stroke-linecap="round"/>
<polyline points="130.4,378.3 132.9,382.6 136.1,387.8 139.2,393.1 142.4,398.3 145.1,403.6 146.0,408.8 145.5,410.9" fill="none" stroke="#000" stroke-width="2.0" stroke-linejoin="round" stroke-linecap="round"/>
<polyline points="118.2,347.9 118.2,394.1" fill="none" stroke="#000" stroke-width="2.5" stroke-linejoin="round" stroke-linecap="round"/>
<polygon points="129.8,366.8 135.0,365.7 136.1,369.9 131.9,372.0" fill="#000" stroke="#000" stroke-width="2.0" stroke-linejoin="round" stroke-linecap="round"/>
<polygon points="176.7,316.3 178.1,315.9 182.3,320.5 183.0,323.0 180.9,322.6 177.1,318.8" fill="#000" stroke="#000" stroke-width="1.5" stroke-linejoin="round" stroke-linecap="round"/>
<polygon points="204.0,323.7 206.5,323.0 209.7,327.9 213.9,330.0 217.0,333.1 216.0,334.8 211.8,332.7 207.6,330.0 204.4,326.8" fill="#000" stroke="#000" stroke-width="1.5" stroke-linejoin="round" stroke-linecap="round"/>
<polyline points="179.2,352.1 178.1,357.3 177.1,363.6 173.9,366.8 172.9,372.0 169.1,377.3" fill="none" stroke="#b8b8b8" stroke-width="1.2" stroke-linejoin="round" stroke-linecap="round"/>
<polyline points="224.0,368.9 217.0,371.0 210.7,374.1 202.3,375.2 195.0,376.2 188.7,379.4 183.4,384.7 180.2,389.9 181.3,395.2 183.4,400.4 182.3,405.7 178.1,408.8" fill="none" stroke="#b8b8b8" stroke-width="1.2" stroke-linejoin="round" stroke-linecap="round"/>
<polyline points="224.0,376.9 217.0,378.3 209.7,382.6 204.4,387.4" fill="none" stroke="#b8b8b8" stroke-width="1.2" stroke-linejoin="round" stroke-linecap="round"/>
<polyline points="199.2,385.7 201.3,392.0 206.5,398.3 209.7,404.6 210.7,410.9" fill="none" stroke="#b8b8b8" stroke-width="1.2" stroke-linejoin="round" stroke-linecap="round"/>
<polyline points="117.8,361.5 121.4,363.6 123.5,365.7" fill="none" stroke="#b8b8b8" stroke-width="1.2" stroke-linejoin="round" stroke-linecap="round"/>
<polyline points="117.8,387.8 121.4,391.6" fill="none" stroke="#b8b8b8" stroke-width="1.2" stroke-linejoin="round" stroke-linecap="round"/>
<polyline points="214.0,331.0 217.2,334.2" fill="none" stroke="#000" stroke-width="1.5" stroke-linejoin="round" stroke-linecap="round"/>
<polygon points="226.6,326.4 229.1,325.1 231.2,327.9 233.3,328.9 232.9,334.2 230.8,333.6 230.4,330.6 227.0,329.3" fill="#000" stroke="#000" stroke-width="2.0" stroke-linejoin="round" stroke-linecap="round"/>
<polyline points="248.7,335.2 250.8,336.9" fill="none" stroke="#000" stroke-width="1.5" stroke-linejoin="round" stroke-linecap="round"/>
<polyline points="270.4,339.4 273.9,337.8 279.2,336.9 282.3,339.4 282.3,343.2 277.1,343.6 273.9,342.6 271.2,341.5 270.4,339.4" fill="none" stroke="#000" stroke-width="2.0" stroke-linejoin="round" stroke-linecap="round"/>
<polygon points="293.5,341.1 296.4,339.4 297.1,342.6 295.0,343.6" fill="#000" stroke="#000" stroke-width="1.5" stroke-linejoin="round" stroke-linecap="round"/>
<polyline points="214.0,353.1 218.2,355.8 223.5,359.4 227.0,362.2 229.1,366.8 230.8,372.0 231.9,377.3 234.0,380.5 238.2,381.9 245.5,381.5 254.0,380.5 262.4,379.4 270.8,378.3 279.2,377.7 287.6,377.7 295.0,379.0 297.1,382.6 300.2,385.7 306.5,388.9 312.8,391.6 319.2,393.7 324.0,394.1" fill="none" stroke="#000" stroke-width="2.0" stroke-linejoin="round" stroke-linecap="round"/>
<polygon points="242.4,391.4 244.5,389.1 248.7,389.1 251.4,391.6 248.7,392.9 244.5,392.9" fill="#000" stroke="#000" stroke-width="1.2" stroke-linejoin="round" stroke-linecap="round"/>
<polygon points="264.5,400.4 270.8,402.5 269.7,404.6" fill="#000" stroke="#000" stroke-width="1.5" stroke-linejoin="round" stroke-linecap="round"/>
<polyline points="317.0,367.2 321.3,366.4 324.0,367.2" fill="none" stroke="#000" stroke-width="1.5" stroke-linejoin="round" stroke-linecap="round"/>
<polyline points="324.0,369.9 319.2,369.9 317.0,367.2" fill="none" stroke="#000" stroke-width="1.5" stroke-linejoin="round" stroke-linecap="round"/>
<polyline points="214.0,372.0 220.3,369.9 226.6,365.7 228.7,363.6" fill="none" stroke="#b8b8b8" stroke-width="1.2" stroke-linejoin="round" stroke-linecap="round"/>
<polyline points="214.0,379.0 222.4,377.7 229.8,376.2" fill="none" stroke="#b8b8b8" stroke-width="1.2" stroke-linejoin="round" stroke-linecap="round"/>
<polyline points="299.2,384.7 296.0,388.9 287.6,391.0 277.1,391.0 270.8,393.1 265.5,391.0" fill="none" stroke="#b8b8b8" stroke-width="1.2" stroke-linejoin="round" stroke-linecap="round"/>
<polyline points="254.0,396.2 256.1,394.1 259.2,395.2 257.1,398.3 261.3,400.4 266.6,402.5 272.9,406.7 273.9,410.9" fill="none" stroke="#b8b8b8" stroke-width="1.2" stroke-linejoin="round" stroke-linecap="round"/>
<polyline points="241.3,398.3 239.2,404.6 235.0,409.9" fill="none" stroke="#b8b8b8" stroke-width="1.2" stroke-linejoin="round" stroke-linecap="round"/>
<polyline points="244.5,399.4 248.7,404.6 250.8,410.9" fill="none" stroke="#b8b8b8" stroke-width="1.2" stroke-linejoin="round" stroke-linecap="round"/>
<polyline points="289.7,397.3 293.9,402.5 292.9,408.8" fill="none" stroke="#b8b8b8" stroke-width="1.2" stroke-linejoin="round" stroke-linecap="round"/>
<polygon points="340.7,338.7 342.9,338.1 343.8,341.2 341.1,341.7" fill="#000" stroke="#000" stroke-width="1.5" stroke-linejoin="round" stroke-linecap="round"/>
<polygon points="346.1,340.3 347.6,340.3 347.6,341.7 346.1,341.7" fill="#000" stroke="#000" stroke-width="1.5" stroke-linejoin="round" stroke-linecap="round"/>
<polygon points="385.3,354.2 388.9,354.2 388.9,355.6 385.3,355.6" fill="#000" stroke="#000" stroke-width="1.5" stroke-linejoin="round" stroke-linecap="round"/>
<polyline points="317.6,367.5 320.3,366.6 323.9,367.5 324.5,369.7 321.2,370.6 318.0,369.3 317.6,367.5" fill="none" stroke="#000" stroke-width="2.0" stroke-linejoin="round" stroke-linecap="round"/>
<polyline points="347.9,366.1 350.1,363.9 353.7,363.4 355.9,365.2 354.6,367.5 351.0,368.3 348.3,367.5 347.9,366.1" fill="none" stroke="#000" stroke-width="2.0" stroke-linejoin="round" stroke-linecap="round"/>
<polyline points="358.2,367.9 360.0,364.3 362.4,361.0 364.9,362.5 366.3,365.2 367.8,367.0 365.4,368.8 361.8,368.8 359.1,369.3 358.2,367.9" fill="none" stroke="#000" stroke-width="2.0" stroke-linejoin="round" stroke-linecap="round"/>
<polyline points="354.6,367.5 358.2,367.9" fill="none" stroke="#000" stroke-width="1.5" stroke-linejoin="round" stroke-linecap="round"/>
<polygon points="353.3,371.5 356.4,371.5 356.4,372.9 353.3,372.9" fill="#000" stroke="#000" stroke-width="1.5" stroke-linejoin="round" stroke-linecap="round"/>
<polygon points="360.0,372.4 363.6,372.9 363.6,374.7 360.0,374.2" fill="#000" stroke="#000" stroke-width="1.5" stroke-linejoin="round" stroke-linecap="round"/>
<polyline points="314.0,392.3 317.6,393.5 323.0,394.1 328.4,393.5 333.8,393.2 337.5,391.3 337.1,388.6 340.2,387.7 343.8,388.6 348.3,387.4 352.8,385.0 358.2,383.8 364.5,383.2 369.9,382.3 370.8,380.5 366.3,379.6 360.0,379.1 354.6,379.6 351.0,379.1 351.5,376.9 356.4,376.6 362.7,377.3 368.1,376.9 373.5,377.3 379.0,376.0 384.4,375.5 389.8,374.7 395.2,374.2 400.6,373.7 406.0,374.2 411.4,376.0 416.9,376.6 422.3,375.1 426.8,374.2" fill="none" stroke="#000" stroke-width="2.0" stroke-linejoin="round" stroke-linecap="round"/>
<polyline points="323.9,394.1 325.7,398.6 324.8,404.0 323.0,411.0" fill="none" stroke="#b8b8b8" stroke-width="1.2" stroke-linejoin="round" stroke-linecap="round"/>
<polyline points="339.3,392.3 341.1,397.7 343.8,402.2 346.5,407.6 347.4,411.0" fill="none" stroke="#b8b8b8" stroke-width="1.2" stroke-linejoin="round" stroke-linecap="round"/>
<polyline points="374.4,388.6 377.2,386.3 382.6,385.6 386.2,388.6 388.9,392.3 391.6,395.0" fill="none" stroke="#b8b8b8" stroke-width="1.2" stroke-linejoin="round" stroke-linecap="round"/>
<polyline points="351.9,411.0 352.8,408.5" fill="none" stroke="#b8b8b8" stroke-width="1.2" stroke-linejoin="round" stroke-linecap="round"/>
<polygon points="455.6,360.7 458.3,358.0 462.8,356.2 466.4,355.6 466.4,358.0 462.8,359.8 459.2,362.1 456.5,362.5" fill="#000" stroke="#000" stroke-width="2.0" stroke-linejoin="round" stroke-linecap="round"/>
<polyline points="427.6,330.0 430.9,330.0 429.4,334.5 426.7,335.1 427.6,330.0" fill="none" stroke="#000" stroke-width="1.5" stroke-linejoin="round" stroke-linecap="round"/>
<polyline points="426.5,375.4 421.1,376.6 416.3,377.2 412.7,378.4 409.1,377.8 405.5,377.2 401.8,378.2 397.0,379.0 393.4,380.2 391.0,382.0 390.4,385.6 391.0,388.0 393.4,388.6 394.0,386.2 395.8,383.8 398.2,383.2 400.0,384.4 401.8,387.4 403.0,390.5 401.2,393.5 398.2,395.3 394.6,395.9 391.6,394.7" fill="none" stroke="#000" stroke-width="2.0" stroke-linejoin="round" stroke-linecap="round"/>
<polyline points="403.0,390.5 406.1,393.5 409.1,396.5 412.1,398.3 413.9,398.9" fill="none" stroke="#000" stroke-width="2.0" stroke-linejoin="round" stroke-linecap="round"/>
<polygon points="410.9,395.9 414.5,394.7 417.5,397.1 418.1,400.1 416.3,404.9 413.9,404.9 412.1,401.3 410.3,398.9" fill="#000" stroke="#000" stroke-width="1.5" stroke-linejoin="round" stroke-linecap="round"/>
<polyline points="414.5,403.7 415.7,407.3 415.1,410.9" fill="none" stroke="#000" stroke-width="1.5" stroke-linejoin="round" stroke-linecap="round"/>
<polyline points="417.5,397.7 421.1,400.1 424.7,401.9 425.9,404.9" fill="none" stroke="#000" stroke-width="1.5" stroke-linejoin="round" stroke-linecap="round"/>
<polyline points="421.1,397.1 425.9,398.3 430.7,398.9 434.3,400.1 437.9,403.1 441.5,406.1 445.2,408.5 450.0,410.3 453.6,411.5" fill="none" stroke="#000" stroke-width="2.5" stroke-linejoin="round" stroke-linecap="round"/>
<polyline points="426.5,375.4 430.7,373.6 435.5,373.0 441.5,372.4 447.6,371.8 453.0,370.6 454.2,372.4 452.4,374.8 450.6,378.4 451.2,383.2 452.4,388.0 451.2,392.3 447.6,393.5 442.7,393.8 437.9,393.8 433.1,394.1 429.5,393.5 425.9,394.1 422.9,395.9 421.1,397.1" fill="none" stroke="#000" stroke-width="2.0" stroke-linejoin="round" stroke-linecap="round"/>
<polyline points="436.7,373.6 437.9,376.6 436.7,379.6 436.5,383.2 437.3,386.8 435.5,389.2 431.9,390.5 428.3,392.3 424.7,394.1 422.3,395.9" fill="none" stroke="#000" stroke-width="2.0" stroke-linejoin="round" stroke-linecap="round"/>
<polyline points="385.0,387.4 387.4,390.5 389.8,394.1" fill="none" stroke="#b8b8b8" stroke-width="1.2" stroke-linejoin="round" stroke-linecap="round"/>
<polyline points="385.0,409.7 389.8,409.1 394.6,407.9 399.4,406.1 404.2,403.7 407.9,401.3 409.1,398.9" fill="none" stroke="#b8b8b8" stroke-width="1.2" stroke-linejoin="round" stroke-linecap="round"/>
<polyline points="407.9,410.9 409.1,407.3 410.9,405.5" fill="none" stroke="#b8b8b8" stroke-width="1.2" stroke-linejoin="round" stroke-linecap="round"/>
<polyline points="415.1,411.5 416.9,408.5 419.9,407.9 423.5,406.1 426.5,404.9" fill="none" stroke="#b8b8b8" stroke-width="1.2" stroke-linejoin="round" stroke-linecap="round"/>
<polyline points="421.1,401.3 422.3,404.9 424.7,407.9 427.1,407.3" fill="none" stroke="#b8b8b8" stroke-width="1.2" stroke-linejoin="round" stroke-linecap="round"/>
<polyline points="427.1,412.1 429.5,408.5 428.9,404.9" fill="none" stroke="#b8b8b8" stroke-width="1.2" stroke-linejoin="round" stroke-linecap="round"/>
<polyline points="433.7,403.7 436.1,406.1 434.3,409.7" fill="none" stroke="#b8b8b8" stroke-width="1.2" stroke-linejoin="round" stroke-linecap="round"/>
</g>

<polyline points="124.5,74.0 123.9,94.0 123.2,114.0 122.6,134.0 122.1,154.0 121.5,174.0 121.0,194.0 120.6,214.0 120.1,234.0 119.7,254.0 119.3,274.0 119.0,294.0 118.7,314.0 118.4,334.0 118.1,354.0 117.9,374.0 117.7,394.0 117.5,412.0" fill="none" stroke="#000" stroke-width="1" stroke-dasharray="2 2" shape-rendering="crispEdges"/>
<polyline points="183.3,74.0 182.8,94.0 182.3,114.0 181.9,134.0 181.5,154.0 181.1,174.0 180.8,194.0 180.4,214.0 180.1,234.0 179.8,254.0 179.6,274.0 179.3,294.0 179.1,314.0 178.9,334.0 178.7,354.0 178.5,374.0 178.4,394.0 178.3,412.0" fill="none" stroke="#000" stroke-width="1" stroke-dasharray="2 2" shape-rendering="crispEdges"/>
<polyline points="242.0,74.0 241.7,94.0 241.4,114.0 241.2,134.0 240.9,154.0 240.7,174.0 240.5,194.0 240.3,214.0 240.1,234.0 239.9,254.0 239.8,274.0 239.6,294.0 239.5,314.0 239.4,334.0 239.2,354.0 239.1,374.0 239.1,394.0 239.0,412.0" fill="none" stroke="#000" stroke-width="1" stroke-dasharray="2 2" shape-rendering="crispEdges"/>
<polyline points="300.7,74.0 300.6,94.0 300.5,114.0 300.5,134.0 300.4,154.0 300.3,174.0 300.2,194.0 300.2,214.0 300.1,234.0 300.0,254.0 300.0,274.0 299.9,294.0 299.9,314.0 299.9,334.0 299.8,354.0 299.8,374.0 299.8,394.0 299.7,412.0" fill="none" stroke="#000" stroke-width="1" stroke-dasharray="2 2" shape-rendering="crispEdges"/>
<polyline points="359.5,74.0 359.6,94.0 359.7,114.0 359.7,134.0 359.8,154.0 359.9,174.0 360.0,194.0 360.0,214.0 360.1,234.0 360.2,254.0 360.2,274.0 360.3,294.0 360.3,314.0 360.3,334.0 360.4,354.0 360.4,374.0 360.4,394.0 360.5,412.0" fill="none" stroke="#000" stroke-width="1" stroke-dasharray="2 2" shape-rendering="crispEdges"/>
<polyline points="418.2,74.0 418.5,94.0 418.8,114.0 419.0,134.0 419.3,154.0 419.5,174.0 419.7,194.0 419.9,214.0 420.1,234.0 420.3,254.0 420.4,274.0 420.6,294.0 420.7,314.0 420.8,334.0 421.0,354.0 421.1,374.0 421.1,394.0 421.2,412.0" fill="none" stroke="#000" stroke-width="1" stroke-dasharray="2 2" shape-rendering="crispEdges"/>
<polyline points="477.0,74.0 477.4,94.0 477.9,114.0 478.3,134.0 478.7,154.0 479.1,174.0 479.4,194.0 479.8,214.0 480.1,234.0 480.4,254.0 480.6,274.0 480.9,294.0 481.1,314.0 481.3,334.0 481.5,354.0 481.7,374.0 481.8,394.0 482.0,412.0" fill="none" stroke="#000" stroke-width="1" stroke-dasharray="2 2" shape-rendering="crispEdges"/>
<polyline points="535.7,74.0 536.3,94.0 537.0,114.0 537.6,134.0 538.1,154.0 538.7,174.0 539.2,194.0 539.6,214.0 540.1,234.0 540.5,254.0 540.9,274.0 541.2,294.0 541.5,314.0 541.8,334.0 542.1,354.0 542.3,374.0 542.5,394.0 542.7,412.0" fill="none" stroke="#000" stroke-width="1" stroke-dasharray="2 2" shape-rendering="crispEdges"/>
<polyline points="117.6,396.5 137.0,396.7 156.3,396.9 175.6,397.1 194.9,397.3 214.2,397.4 233.5,397.5 252.8,397.6 272.2,397.7 291.5,397.8 310.8,397.8 330.1,397.8 349.4,397.8 368.7,397.8 388.0,397.7 407.4,397.6 426.7,397.5 446.0,397.4 465.3,397.3 484.6,397.1 503.9,396.9 523.2,396.7 542.6,396.5" fill="none" stroke="#000" stroke-width="1" stroke-dasharray="2 2" shape-rendering="crispEdges"/>
<polyline points="118.4,334.9 137.6,335.1 156.9,335.3 176.1,335.5 195.4,335.7 214.6,335.8 233.9,335.9 253.1,336.0 272.4,336.1 291.6,336.2 310.9,336.2 330.1,336.2 349.3,336.2 368.6,336.2 387.8,336.1 407.1,336.0 426.3,335.9 445.6,335.8 464.8,335.7 484.1,335.5 503.3,335.3 522.6,335.1 541.8,334.9" fill="none" stroke="#000" stroke-width="1" stroke-dasharray="2 2" shape-rendering="crispEdges"/>
<polyline points="119.3,273.3 138.5,273.5 157.7,273.7 176.8,273.9 196.0,274.1 215.1,274.2 234.3,274.3 253.5,274.4 272.6,274.5 291.8,274.6 310.9,274.6 330.1,274.6 349.3,274.6 368.4,274.6 387.6,274.5 406.7,274.4 425.9,274.3 445.1,274.2 464.2,274.1 483.4,273.9 502.5,273.7 521.7,273.5 540.9,273.3" fill="none" stroke="#000" stroke-width="1" stroke-dasharray="2 2" shape-rendering="crispEdges"/>
<polyline points="120.6,211.7 139.7,212.0 158.7,212.2 177.8,212.3 196.8,212.5 215.8,212.6 234.9,212.7 253.9,212.8 273.0,212.9 292.0,213.0 311.1,213.0 330.1,213.0 349.1,213.0 368.2,213.0 387.2,212.9 406.3,212.8 425.3,212.7 444.4,212.6 463.4,212.5 482.4,212.3 501.5,212.1 520.5,211.9 539.6,211.7" fill="none" stroke="#000" stroke-width="1" stroke-dasharray="2 2" shape-rendering="crispEdges"/>
<polyline points="122.2,150.2 141.1,150.4 160.0,150.6 178.9,150.7 197.8,150.9 216.7,151.0 235.6,151.1 254.5,151.2 273.4,151.3 292.3,151.4 311.2,151.4 330.1,151.4 349.0,151.4 367.9,151.4 386.8,151.3 405.7,151.2 424.6,151.1 443.5,151.0 462.4,150.9 481.3,150.7 500.2,150.6 519.1,150.4 538.0,150.1" fill="none" stroke="#000" stroke-width="1" stroke-dasharray="2 2" shape-rendering="crispEdges"/>
<polyline points="124.0,88.6 142.8,88.8 161.5,89.0 180.2,89.2 199.0,89.3 217.7,89.4 236.4,89.5 255.2,89.6 273.9,89.7 292.6,89.8 311.4,89.8 330.1,89.8 348.8,89.8 367.6,89.8 386.3,89.7 405.0,89.6 423.8,89.5 442.5,89.4 461.2,89.3 480.0,89.1 498.7,89.0 517.4,88.8 536.2,88.6" fill="none" stroke="#000" stroke-width="1" stroke-dasharray="2 2" shape-rendering="crispEdges"/>
</g>
<g shape-rendering="crispEdges">
<path d="M114 70H546V416H114Z M117 74V412H543V74Z" fill="#000" fill-rule="evenodd"/>
<rect x="115" y="71" width="10" height="2" fill="#fff"/>
<rect x="183" y="71" width="59" height="2" fill="#fff"/>
<rect x="301" y="71" width="58" height="2" fill="#fff"/>
<rect x="418" y="71" width="59" height="2" fill="#fff"/>
<rect x="536" y="71" width="9" height="2" fill="#fff"/>
<rect x="115" y="413" width="3" height="2" fill="#fff"/>
<rect x="178" y="413" width="61" height="2" fill="#fff"/>
<rect x="300" y="413" width="60" height="2" fill="#fff"/>
<rect x="421" y="413" width="61" height="2" fill="#fff"/>
<rect x="543" y="413" width="2" height="2" fill="#fff"/>
<rect x="115" y="71" width="1" height="17" fill="#fff"/>
<rect x="115" y="150" width="1" height="62" fill="#fff"/>
<rect x="115" y="273" width="1" height="62" fill="#fff"/>
<rect x="115" y="396" width="1" height="19" fill="#fff"/>
<rect x="544" y="71" width="1" height="17" fill="#fff"/>
<rect x="544" y="150" width="1" height="62" fill="#fff"/>
<rect x="544" y="273" width="1" height="62" fill="#fff"/>
<rect x="544" y="396" width="1" height="19" fill="#fff"/>
</g>
<text x="124.9" y="67.7" font-size="13.2" text-anchor="middle" stroke="#000" stroke-width="0.25">-72</text>
<text x="117.5" y="426.9" font-size="13.2" text-anchor="middle" stroke="#000" stroke-width="0.25">-72</text>
<text x="183.3" y="67.7" font-size="13.2" text-anchor="middle" stroke="#000" stroke-width="0.25">-70</text>
<text x="178.3" y="426.9" font-size="13.2" text-anchor="middle" stroke="#000" stroke-width="0.25">-70</text>
<text x="242.0" y="67.7" font-size="13.2" text-anchor="middle" stroke="#000" stroke-width="0.25">-68</text>
<text x="239.0" y="426.9" font-size="13.2" text-anchor="middle" stroke="#000" stroke-width="0.25">-68</text>
<text x="300.7" y="67.7" font-size="13.2" text-anchor="middle" stroke="#000" stroke-width="0.25">-66</text>
<text x="299.7" y="426.9" font-size="13.2" text-anchor="middle" stroke="#000" stroke-width="0.25">-66</text>
<text x="359.5" y="67.7" font-size="13.2" text-anchor="middle" stroke="#000" stroke-width="0.25">-64</text>
<text x="360.5" y="426.9" font-size="13.2" text-anchor="middle" stroke="#000" stroke-width="0.25">-64</text>
<text x="418.2" y="67.7" font-size="13.2" text-anchor="middle" stroke="#000" stroke-width="0.25">-62</text>
<text x="421.2" y="426.9" font-size="13.2" text-anchor="middle" stroke="#000" stroke-width="0.25">-62</text>
<text x="477.0" y="67.7" font-size="13.2" text-anchor="middle" stroke="#000" stroke-width="0.25">-60</text>
<text x="482.0" y="426.9" font-size="13.2" text-anchor="middle" stroke="#000" stroke-width="0.25">-60</text>
<text x="535.7" y="67.7" font-size="13.2" text-anchor="middle" stroke="#000" stroke-width="0.25">-58</text>
<text x="542.7" y="426.9" font-size="13.2" text-anchor="middle" stroke="#000" stroke-width="0.25">-58</text>
<text transform="translate(110.9 396.5) rotate(-90)" font-size="13.2" text-anchor="middle" stroke="#000" stroke-width="0.25">10</text>
<text transform="translate(549.5 396.5) rotate(90)" font-size="13.2" text-anchor="middle" stroke="#000" stroke-width="0.25">10</text>
<text transform="translate(110.9 334.9) rotate(-90)" font-size="13.2" text-anchor="middle" stroke="#000" stroke-width="0.25">12</text>
<text transform="translate(549.5 334.9) rotate(90)" font-size="13.2" text-anchor="middle" stroke="#000" stroke-width="0.25">12</text>
<text transform="translate(110.9 273.3) rotate(-90)" font-size="13.2" text-anchor="middle" stroke="#000" stroke-width="0.25">14</text>
<text transform="translate(549.5 273.3) rotate(90)" font-size="13.2" text-anchor="middle" stroke="#000" stroke-width="0.25">14</text>
<text transform="translate(110.9 211.7) rotate(-90)" font-size="13.2" text-anchor="middle" stroke="#000" stroke-width="0.25">16</text>
<text transform="translate(549.5 211.7) rotate(90)" font-size="13.2" text-anchor="middle" stroke="#000" stroke-width="0.25">16</text>
<text transform="translate(110.9 150.1) rotate(-90)" font-size="13.2" text-anchor="middle" stroke="#000" stroke-width="0.25">18</text>
<text transform="translate(549.5 150.1) rotate(90)" font-size="13.2" text-anchor="middle" stroke="#000" stroke-width="0.25">18</text>
<text transform="translate(110.9 88.5) rotate(-90)" font-size="13.2" text-anchor="middle" stroke="#000" stroke-width="0.25">20</text>
<text transform="translate(549.5 88.5) rotate(90)" font-size="13.2" text-anchor="middle" stroke="#000" stroke-width="0.25">20</text>
<rect x="8" y="442" width="644" height="15" fill="url(#cb)"/>
<text x="9.0" y="474" font-size="17" text-anchor="middle">0</text>
<text x="80.3" y="474" font-size="17" text-anchor="middle">2</text>
<text x="151.7" y="474" font-size="17" text-anchor="middle">4</text>
<text x="223.0" y="474" font-size="17" text-anchor="middle">6</text>
<text x="294.4" y="474" font-size="17" text-anchor="middle">8</text>
<text x="365.7" y="474" font-size="17" text-anchor="middle">10</text>
<text x="437.0" y="474" font-size="17" text-anchor="middle">12</text>
<text x="508.4" y="474" font-size="17" text-anchor="middle">14</text>
<text x="579.7" y="474" font-size="17" text-anchor="middle">16</text>
<text x="651.1" y="474" font-size="17" text-anchor="middle">18</text>
</svg>
</body></html>
